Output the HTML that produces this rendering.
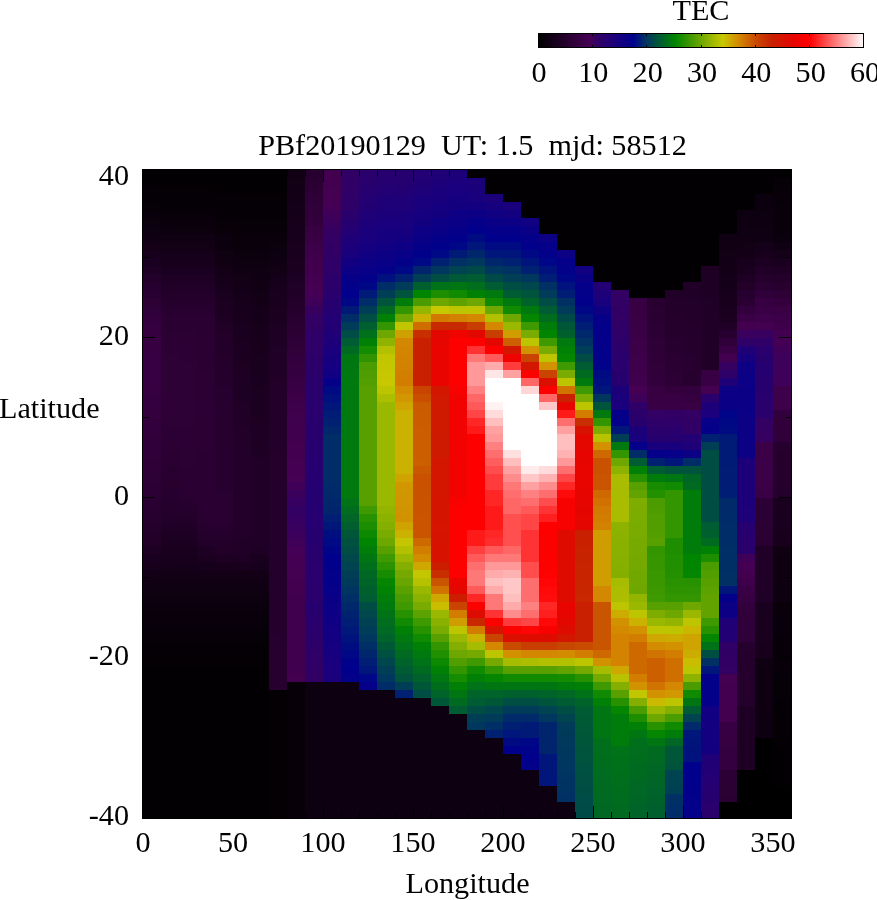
<!DOCTYPE html>
<html><head><meta charset="utf-8"><title>TEC</title>
<style>
html,body{margin:0;padding:0;background:#fff;}
body{width:877px;height:900px;overflow:hidden;}
svg{display:block;}
text{font-family:"Liberation Serif",serif;font-size:30.2px;fill:#000;}
</style></head><body>
<svg width="877" height="900" viewBox="0 0 877 900">
<defs><linearGradient id="cb" x1="0" x2="1" y1="0" y2="0"><stop offset="0.00%" stop-color="#000000"/><stop offset="16.00%" stop-color="#460054"/><stop offset="17.67%" stop-color="#340062"/><stop offset="24.17%" stop-color="#19007d"/><stop offset="29.17%" stop-color="#00008c"/><stop offset="33.33%" stop-color="#00375f"/><stop offset="42.17%" stop-color="#008500"/><stop offset="50.00%" stop-color="#6ea700"/><stop offset="56.67%" stop-color="#c8c800"/><stop offset="61.67%" stop-color="#d48700"/><stop offset="66.67%" stop-color="#c84b00"/><stop offset="71.67%" stop-color="#c82000"/><stop offset="78.33%" stop-color="#e60500"/><stop offset="83.33%" stop-color="#ff0000"/><stop offset="100.00%" stop-color="#ffffff"/></linearGradient></defs>
<rect x="0" y="0" width="877" height="900" fill="#fff"/>
<g shape-rendering="crispEdges">
<rect x="142" y="169" width="650" height="650" fill="#000"/>
<rect x="143" y="170" width="18" height="8" fill="#020003"/>
<rect x="143" y="178" width="18" height="8" fill="#030004"/>
<rect x="143" y="186" width="18" height="8" fill="#040005"/>
<rect x="143" y="194" width="18" height="8" fill="#050006"/>
<rect x="143" y="202" width="18" height="8" fill="#060007"/>
<rect x="143" y="210" width="18" height="8" fill="#08000a"/>
<rect x="143" y="218" width="18" height="8" fill="#0b000d"/>
<rect x="143" y="226" width="18" height="8" fill="#0d0010"/>
<rect x="143" y="234" width="18" height="8" fill="#100013"/>
<rect x="143" y="242" width="18" height="8" fill="#130017"/>
<rect x="143" y="250" width="18" height="8" fill="#17001b"/>
<rect x="143" y="258" width="18" height="8" fill="#1a0020"/>
<rect x="143" y="266" width="18" height="8" fill="#1e0024"/>
<rect x="143" y="274" width="18" height="8" fill="#220029"/>
<rect x="143" y="282" width="18" height="8" fill="#26002e"/>
<rect x="143" y="290" width="18" height="8" fill="#290032"/>
<rect x="143" y="298" width="18" height="8" fill="#2d0036"/>
<rect x="143" y="306" width="18" height="8" fill="#30003a"/>
<rect x="143" y="314" width="18" height="8" fill="#33003d"/>
<rect x="143" y="322" width="18" height="8" fill="#350040"/>
<rect x="143" y="330" width="18" height="8" fill="#360040"/>
<rect x="143" y="338" width="18" height="8" fill="#360041"/>
<rect x="143" y="346" width="18" height="8" fill="#370041"/>
<rect x="143" y="354" width="18" height="24" fill="#370042"/>
<rect x="143" y="378" width="18" height="16" fill="#360041"/>
<rect x="143" y="394" width="18" height="8" fill="#350040"/>
<rect x="143" y="402" width="18" height="8" fill="#34003f"/>
<rect x="143" y="410" width="18" height="8" fill="#34003e"/>
<rect x="143" y="418" width="18" height="8" fill="#33003d"/>
<rect x="143" y="426" width="18" height="8" fill="#32003c"/>
<rect x="143" y="434" width="18" height="8" fill="#31003b"/>
<rect x="143" y="442" width="18" height="8" fill="#30003a"/>
<rect x="143" y="450" width="18" height="8" fill="#2f0039"/>
<rect x="143" y="458" width="18" height="8" fill="#2f0038"/>
<rect x="143" y="466" width="18" height="8" fill="#2e0037"/>
<rect x="143" y="474" width="18" height="8" fill="#2d0036"/>
<rect x="143" y="482" width="18" height="8" fill="#2c0035"/>
<rect x="143" y="490" width="18" height="8" fill="#2c0034"/>
<rect x="143" y="498" width="18" height="8" fill="#2a0032"/>
<rect x="143" y="506" width="18" height="8" fill="#280030"/>
<rect x="143" y="514" width="18" height="8" fill="#27002e"/>
<rect x="143" y="522" width="18" height="8" fill="#25002c"/>
<rect x="143" y="530" width="18" height="8" fill="#23002a"/>
<rect x="143" y="538" width="18" height="8" fill="#220028"/>
<rect x="143" y="546" width="18" height="8" fill="#1e0024"/>
<rect x="143" y="554" width="18" height="8" fill="#1a0020"/>
<rect x="143" y="562" width="18" height="8" fill="#17001b"/>
<rect x="143" y="570" width="18" height="8" fill="#130017"/>
<rect x="143" y="578" width="18" height="8" fill="#110014"/>
<rect x="143" y="586" width="18" height="8" fill="#0f0012"/>
<rect x="143" y="594" width="18" height="8" fill="#0d000f"/>
<rect x="143" y="602" width="18" height="8" fill="#0b000d"/>
<rect x="143" y="610" width="18" height="8" fill="#09000b"/>
<rect x="143" y="618" width="18" height="8" fill="#08000a"/>
<rect x="143" y="626" width="18" height="8" fill="#070008"/>
<rect x="143" y="634" width="18" height="8" fill="#060007"/>
<rect x="143" y="642" width="18" height="8" fill="#050006"/>
<rect x="143" y="650" width="18" height="8" fill="#040005"/>
<rect x="143" y="658" width="18" height="8" fill="#040004"/>
<rect x="143" y="666" width="18" height="8" fill="#030004"/>
<rect x="143" y="674" width="18" height="80" fill="#030003"/>
<rect x="143" y="754" width="18" height="64" fill="#020003"/>
<rect x="161" y="170" width="18" height="8" fill="#020003"/>
<rect x="161" y="178" width="18" height="8" fill="#030004"/>
<rect x="161" y="186" width="18" height="8" fill="#040004"/>
<rect x="161" y="194" width="18" height="8" fill="#040005"/>
<rect x="161" y="202" width="18" height="8" fill="#050006"/>
<rect x="161" y="210" width="18" height="8" fill="#070009"/>
<rect x="161" y="218" width="18" height="8" fill="#0a000c"/>
<rect x="161" y="226" width="18" height="8" fill="#0c000f"/>
<rect x="161" y="234" width="18" height="8" fill="#0f0012"/>
<rect x="161" y="242" width="18" height="8" fill="#120015"/>
<rect x="161" y="250" width="18" height="8" fill="#140018"/>
<rect x="161" y="258" width="18" height="8" fill="#17001c"/>
<rect x="161" y="266" width="18" height="8" fill="#1a0020"/>
<rect x="161" y="274" width="18" height="8" fill="#1e0024"/>
<rect x="161" y="282" width="18" height="8" fill="#210027"/>
<rect x="161" y="290" width="18" height="8" fill="#23002a"/>
<rect x="161" y="298" width="18" height="8" fill="#25002c"/>
<rect x="161" y="306" width="18" height="8" fill="#27002f"/>
<rect x="161" y="314" width="18" height="8" fill="#290031"/>
<rect x="161" y="322" width="18" height="8" fill="#2a0032"/>
<rect x="161" y="330" width="18" height="8" fill="#2b0033"/>
<rect x="161" y="338" width="18" height="8" fill="#2c0034"/>
<rect x="161" y="346" width="18" height="8" fill="#2c0035"/>
<rect x="161" y="354" width="18" height="40" fill="#2d0036"/>
<rect x="161" y="394" width="18" height="24" fill="#2e0037"/>
<rect x="161" y="418" width="18" height="8" fill="#2d0036"/>
<rect x="161" y="426" width="18" height="8" fill="#2c0035"/>
<rect x="161" y="434" width="18" height="8" fill="#2b0034"/>
<rect x="161" y="442" width="18" height="8" fill="#2b0033"/>
<rect x="161" y="450" width="18" height="8" fill="#2a0032"/>
<rect x="161" y="458" width="18" height="8" fill="#290031"/>
<rect x="161" y="466" width="18" height="8" fill="#280030"/>
<rect x="161" y="474" width="18" height="8" fill="#27002f"/>
<rect x="161" y="482" width="18" height="8" fill="#27002e"/>
<rect x="161" y="490" width="18" height="8" fill="#26002e"/>
<rect x="161" y="498" width="18" height="8" fill="#25002d"/>
<rect x="161" y="506" width="18" height="8" fill="#24002c"/>
<rect x="161" y="514" width="18" height="8" fill="#220029"/>
<rect x="161" y="522" width="18" height="8" fill="#200026"/>
<rect x="161" y="530" width="18" height="8" fill="#1e0024"/>
<rect x="161" y="538" width="18" height="8" fill="#1c0021"/>
<rect x="161" y="546" width="18" height="8" fill="#1a001f"/>
<rect x="161" y="554" width="18" height="8" fill="#17001c"/>
<rect x="161" y="562" width="18" height="8" fill="#150019"/>
<rect x="161" y="570" width="18" height="8" fill="#130017"/>
<rect x="161" y="578" width="18" height="8" fill="#110014"/>
<rect x="161" y="586" width="18" height="8" fill="#0f0012"/>
<rect x="161" y="594" width="18" height="8" fill="#0d000f"/>
<rect x="161" y="602" width="18" height="8" fill="#0b000d"/>
<rect x="161" y="610" width="18" height="8" fill="#09000b"/>
<rect x="161" y="618" width="18" height="8" fill="#08000a"/>
<rect x="161" y="626" width="18" height="8" fill="#070008"/>
<rect x="161" y="634" width="18" height="8" fill="#060007"/>
<rect x="161" y="642" width="18" height="8" fill="#050006"/>
<rect x="161" y="650" width="18" height="8" fill="#040005"/>
<rect x="161" y="658" width="18" height="8" fill="#040004"/>
<rect x="161" y="666" width="18" height="8" fill="#030004"/>
<rect x="161" y="674" width="18" height="80" fill="#030003"/>
<rect x="161" y="754" width="18" height="64" fill="#020003"/>
<rect x="179" y="170" width="18" height="8" fill="#020003"/>
<rect x="179" y="178" width="18" height="8" fill="#030004"/>
<rect x="179" y="186" width="18" height="8" fill="#040004"/>
<rect x="179" y="194" width="18" height="8" fill="#040005"/>
<rect x="179" y="202" width="18" height="8" fill="#050006"/>
<rect x="179" y="210" width="18" height="8" fill="#070009"/>
<rect x="179" y="218" width="18" height="8" fill="#0a000c"/>
<rect x="179" y="226" width="18" height="8" fill="#0c000f"/>
<rect x="179" y="234" width="18" height="8" fill="#0f0012"/>
<rect x="179" y="242" width="18" height="8" fill="#120015"/>
<rect x="179" y="250" width="18" height="8" fill="#140018"/>
<rect x="179" y="258" width="18" height="8" fill="#17001c"/>
<rect x="179" y="266" width="18" height="8" fill="#1a0020"/>
<rect x="179" y="274" width="18" height="8" fill="#1e0024"/>
<rect x="179" y="282" width="18" height="8" fill="#210027"/>
<rect x="179" y="290" width="18" height="8" fill="#23002a"/>
<rect x="179" y="298" width="18" height="8" fill="#25002c"/>
<rect x="179" y="306" width="18" height="8" fill="#27002f"/>
<rect x="179" y="314" width="18" height="8" fill="#290031"/>
<rect x="179" y="322" width="18" height="8" fill="#2a0032"/>
<rect x="179" y="330" width="18" height="8" fill="#2b0033"/>
<rect x="179" y="338" width="18" height="8" fill="#2c0034"/>
<rect x="179" y="346" width="18" height="8" fill="#2c0035"/>
<rect x="179" y="354" width="18" height="8" fill="#2d0035"/>
<rect x="179" y="362" width="18" height="64" fill="#2d0036"/>
<rect x="179" y="426" width="18" height="16" fill="#2c0035"/>
<rect x="179" y="442" width="18" height="16" fill="#2b0034"/>
<rect x="179" y="458" width="18" height="8" fill="#2b0033"/>
<rect x="179" y="466" width="18" height="8" fill="#2a0033"/>
<rect x="179" y="474" width="18" height="8" fill="#2a0032"/>
<rect x="179" y="482" width="18" height="8" fill="#290032"/>
<rect x="179" y="490" width="18" height="8" fill="#290031"/>
<rect x="179" y="498" width="18" height="8" fill="#27002f"/>
<rect x="179" y="506" width="18" height="8" fill="#25002c"/>
<rect x="179" y="514" width="18" height="8" fill="#23002a"/>
<rect x="179" y="522" width="18" height="8" fill="#210027"/>
<rect x="179" y="530" width="18" height="8" fill="#1f0025"/>
<rect x="179" y="538" width="18" height="8" fill="#1c0022"/>
<rect x="179" y="546" width="18" height="8" fill="#1a001f"/>
<rect x="179" y="554" width="18" height="8" fill="#18001c"/>
<rect x="179" y="562" width="18" height="8" fill="#15001a"/>
<rect x="179" y="570" width="18" height="8" fill="#130017"/>
<rect x="179" y="578" width="18" height="8" fill="#110014"/>
<rect x="179" y="586" width="18" height="8" fill="#0f0012"/>
<rect x="179" y="594" width="18" height="8" fill="#0d000f"/>
<rect x="179" y="602" width="18" height="8" fill="#0b000d"/>
<rect x="179" y="610" width="18" height="8" fill="#09000b"/>
<rect x="179" y="618" width="18" height="8" fill="#08000a"/>
<rect x="179" y="626" width="18" height="8" fill="#070008"/>
<rect x="179" y="634" width="18" height="8" fill="#060007"/>
<rect x="179" y="642" width="18" height="8" fill="#050006"/>
<rect x="179" y="650" width="18" height="8" fill="#040005"/>
<rect x="179" y="658" width="18" height="8" fill="#040004"/>
<rect x="179" y="666" width="18" height="8" fill="#030004"/>
<rect x="179" y="674" width="18" height="80" fill="#030003"/>
<rect x="179" y="754" width="18" height="64" fill="#020003"/>
<rect x="197" y="170" width="18" height="8" fill="#020003"/>
<rect x="197" y="178" width="18" height="8" fill="#030004"/>
<rect x="197" y="186" width="18" height="8" fill="#040004"/>
<rect x="197" y="194" width="18" height="8" fill="#040005"/>
<rect x="197" y="202" width="18" height="8" fill="#050006"/>
<rect x="197" y="210" width="18" height="8" fill="#070009"/>
<rect x="197" y="218" width="18" height="8" fill="#0a000c"/>
<rect x="197" y="226" width="18" height="8" fill="#0c000f"/>
<rect x="197" y="234" width="18" height="8" fill="#0f0012"/>
<rect x="197" y="242" width="18" height="8" fill="#120015"/>
<rect x="197" y="250" width="18" height="8" fill="#140018"/>
<rect x="197" y="258" width="18" height="8" fill="#17001c"/>
<rect x="197" y="266" width="18" height="8" fill="#1a0020"/>
<rect x="197" y="274" width="18" height="8" fill="#1e0024"/>
<rect x="197" y="282" width="18" height="8" fill="#210027"/>
<rect x="197" y="290" width="18" height="8" fill="#23002a"/>
<rect x="197" y="298" width="18" height="8" fill="#25002c"/>
<rect x="197" y="306" width="18" height="8" fill="#27002f"/>
<rect x="197" y="314" width="18" height="16" fill="#290031"/>
<rect x="197" y="330" width="18" height="16" fill="#2a0032"/>
<rect x="197" y="346" width="18" height="24" fill="#2a0033"/>
<rect x="197" y="370" width="18" height="32" fill="#2b0033"/>
<rect x="197" y="402" width="18" height="16" fill="#2b0034"/>
<rect x="197" y="418" width="18" height="32" fill="#2b0033"/>
<rect x="197" y="450" width="18" height="32" fill="#2a0033"/>
<rect x="197" y="482" width="18" height="40" fill="#2a0032"/>
<rect x="197" y="522" width="18" height="8" fill="#27002f"/>
<rect x="197" y="530" width="18" height="8" fill="#25002d"/>
<rect x="197" y="538" width="18" height="8" fill="#23002a"/>
<rect x="197" y="546" width="18" height="8" fill="#1f0025"/>
<rect x="197" y="554" width="18" height="8" fill="#1b0020"/>
<rect x="197" y="562" width="18" height="8" fill="#17001c"/>
<rect x="197" y="570" width="18" height="8" fill="#130017"/>
<rect x="197" y="578" width="18" height="8" fill="#110014"/>
<rect x="197" y="586" width="18" height="8" fill="#0f0012"/>
<rect x="197" y="594" width="18" height="8" fill="#0d000f"/>
<rect x="197" y="602" width="18" height="8" fill="#0b000d"/>
<rect x="197" y="610" width="18" height="8" fill="#09000b"/>
<rect x="197" y="618" width="18" height="8" fill="#08000a"/>
<rect x="197" y="626" width="18" height="8" fill="#070008"/>
<rect x="197" y="634" width="18" height="8" fill="#060007"/>
<rect x="197" y="642" width="18" height="8" fill="#050006"/>
<rect x="197" y="650" width="18" height="8" fill="#040005"/>
<rect x="197" y="658" width="18" height="8" fill="#040004"/>
<rect x="197" y="666" width="18" height="8" fill="#030004"/>
<rect x="197" y="674" width="18" height="80" fill="#030003"/>
<rect x="197" y="754" width="18" height="64" fill="#020003"/>
<rect x="215" y="170" width="18" height="8" fill="#020003"/>
<rect x="215" y="178" width="18" height="8" fill="#030003"/>
<rect x="215" y="186" width="18" height="8" fill="#030004"/>
<rect x="215" y="194" width="18" height="8" fill="#040005"/>
<rect x="215" y="202" width="18" height="8" fill="#050005"/>
<rect x="215" y="210" width="18" height="8" fill="#050006"/>
<rect x="215" y="218" width="18" height="8" fill="#070008"/>
<rect x="215" y="226" width="18" height="8" fill="#09000a"/>
<rect x="215" y="234" width="18" height="8" fill="#0b000d"/>
<rect x="215" y="242" width="18" height="8" fill="#0c000f"/>
<rect x="215" y="250" width="18" height="8" fill="#0f0012"/>
<rect x="215" y="258" width="18" height="8" fill="#110014"/>
<rect x="215" y="266" width="18" height="8" fill="#130017"/>
<rect x="215" y="274" width="18" height="8" fill="#150019"/>
<rect x="215" y="282" width="18" height="8" fill="#17001b"/>
<rect x="215" y="290" width="18" height="8" fill="#19001e"/>
<rect x="215" y="298" width="18" height="8" fill="#1b0020"/>
<rect x="215" y="306" width="18" height="8" fill="#1c0022"/>
<rect x="215" y="314" width="18" height="8" fill="#1e0024"/>
<rect x="215" y="322" width="18" height="8" fill="#200026"/>
<rect x="215" y="330" width="18" height="8" fill="#220028"/>
<rect x="215" y="338" width="18" height="8" fill="#220029"/>
<rect x="215" y="346" width="18" height="8" fill="#23002a"/>
<rect x="215" y="354" width="18" height="8" fill="#24002b"/>
<rect x="215" y="362" width="18" height="8" fill="#24002c"/>
<rect x="215" y="370" width="18" height="8" fill="#25002c"/>
<rect x="215" y="378" width="18" height="8" fill="#25002d"/>
<rect x="215" y="386" width="18" height="16" fill="#26002e"/>
<rect x="215" y="402" width="18" height="24" fill="#27002f"/>
<rect x="215" y="426" width="18" height="64" fill="#280030"/>
<rect x="215" y="490" width="18" height="8" fill="#280031"/>
<rect x="215" y="498" width="18" height="24" fill="#290031"/>
<rect x="215" y="522" width="18" height="8" fill="#27002f"/>
<rect x="215" y="530" width="18" height="8" fill="#25002d"/>
<rect x="215" y="538" width="18" height="8" fill="#23002a"/>
<rect x="215" y="546" width="18" height="8" fill="#220028"/>
<rect x="215" y="554" width="18" height="8" fill="#1d0022"/>
<rect x="215" y="562" width="18" height="8" fill="#18001d"/>
<rect x="215" y="570" width="18" height="8" fill="#130017"/>
<rect x="215" y="578" width="18" height="8" fill="#110014"/>
<rect x="215" y="586" width="18" height="8" fill="#0f0012"/>
<rect x="215" y="594" width="18" height="8" fill="#0d000f"/>
<rect x="215" y="602" width="18" height="8" fill="#0b000d"/>
<rect x="215" y="610" width="18" height="8" fill="#09000b"/>
<rect x="215" y="618" width="18" height="8" fill="#08000a"/>
<rect x="215" y="626" width="18" height="8" fill="#070008"/>
<rect x="215" y="634" width="18" height="8" fill="#060007"/>
<rect x="215" y="642" width="18" height="8" fill="#050006"/>
<rect x="215" y="650" width="18" height="8" fill="#040005"/>
<rect x="215" y="658" width="18" height="8" fill="#040004"/>
<rect x="215" y="666" width="18" height="8" fill="#030004"/>
<rect x="215" y="674" width="18" height="80" fill="#030003"/>
<rect x="215" y="754" width="18" height="64" fill="#020003"/>
<rect x="233" y="170" width="18" height="8" fill="#020003"/>
<rect x="233" y="178" width="18" height="8" fill="#030003"/>
<rect x="233" y="186" width="18" height="8" fill="#030004"/>
<rect x="233" y="194" width="18" height="8" fill="#040004"/>
<rect x="233" y="202" width="18" height="16" fill="#040005"/>
<rect x="233" y="218" width="18" height="8" fill="#060007"/>
<rect x="233" y="226" width="18" height="8" fill="#070009"/>
<rect x="233" y="234" width="18" height="8" fill="#09000a"/>
<rect x="233" y="242" width="18" height="8" fill="#0a000c"/>
<rect x="233" y="250" width="18" height="8" fill="#0c000f"/>
<rect x="233" y="258" width="18" height="8" fill="#0e0011"/>
<rect x="233" y="266" width="18" height="8" fill="#100013"/>
<rect x="233" y="274" width="18" height="8" fill="#120015"/>
<rect x="233" y="282" width="18" height="8" fill="#130017"/>
<rect x="233" y="290" width="18" height="8" fill="#140018"/>
<rect x="233" y="298" width="18" height="8" fill="#16001a"/>
<rect x="233" y="306" width="18" height="8" fill="#17001b"/>
<rect x="233" y="314" width="18" height="8" fill="#18001d"/>
<rect x="233" y="322" width="18" height="8" fill="#19001e"/>
<rect x="233" y="330" width="18" height="8" fill="#1a0020"/>
<rect x="233" y="338" width="18" height="8" fill="#1b0020"/>
<rect x="233" y="346" width="18" height="8" fill="#1b0021"/>
<rect x="233" y="354" width="18" height="8" fill="#1c0022"/>
<rect x="233" y="362" width="18" height="8" fill="#1d0022"/>
<rect x="233" y="370" width="18" height="8" fill="#1d0023"/>
<rect x="233" y="378" width="18" height="8" fill="#1e0024"/>
<rect x="233" y="386" width="18" height="8" fill="#1e0025"/>
<rect x="233" y="394" width="18" height="8" fill="#1f0025"/>
<rect x="233" y="402" width="18" height="8" fill="#200026"/>
<rect x="233" y="410" width="18" height="8" fill="#200027"/>
<rect x="233" y="418" width="18" height="8" fill="#210028"/>
<rect x="233" y="426" width="18" height="16" fill="#220028"/>
<rect x="233" y="442" width="18" height="48" fill="#220029"/>
<rect x="233" y="490" width="18" height="8" fill="#230029"/>
<rect x="233" y="498" width="18" height="32" fill="#23002a"/>
<rect x="233" y="530" width="18" height="8" fill="#220029"/>
<rect x="233" y="538" width="18" height="8" fill="#210027"/>
<rect x="233" y="546" width="18" height="8" fill="#200026"/>
<rect x="233" y="554" width="18" height="8" fill="#1f0025"/>
<rect x="233" y="562" width="18" height="8" fill="#19001e"/>
<rect x="233" y="570" width="18" height="8" fill="#130017"/>
<rect x="233" y="578" width="18" height="8" fill="#110014"/>
<rect x="233" y="586" width="18" height="8" fill="#0f0012"/>
<rect x="233" y="594" width="18" height="8" fill="#0d000f"/>
<rect x="233" y="602" width="18" height="8" fill="#0b000d"/>
<rect x="233" y="610" width="18" height="8" fill="#09000b"/>
<rect x="233" y="618" width="18" height="8" fill="#08000a"/>
<rect x="233" y="626" width="18" height="8" fill="#070008"/>
<rect x="233" y="634" width="18" height="8" fill="#060007"/>
<rect x="233" y="642" width="18" height="8" fill="#050006"/>
<rect x="233" y="650" width="18" height="8" fill="#040005"/>
<rect x="233" y="658" width="18" height="8" fill="#040004"/>
<rect x="233" y="666" width="18" height="8" fill="#030004"/>
<rect x="233" y="674" width="18" height="80" fill="#030003"/>
<rect x="233" y="754" width="18" height="64" fill="#020003"/>
<rect x="251" y="170" width="18" height="8" fill="#020003"/>
<rect x="251" y="178" width="18" height="8" fill="#030003"/>
<rect x="251" y="186" width="18" height="8" fill="#030004"/>
<rect x="251" y="194" width="18" height="8" fill="#040004"/>
<rect x="251" y="202" width="18" height="16" fill="#040005"/>
<rect x="251" y="218" width="18" height="8" fill="#060007"/>
<rect x="251" y="226" width="18" height="8" fill="#070008"/>
<rect x="251" y="234" width="18" height="8" fill="#08000a"/>
<rect x="251" y="242" width="18" height="8" fill="#09000b"/>
<rect x="251" y="250" width="18" height="8" fill="#0b000d"/>
<rect x="251" y="258" width="18" height="8" fill="#0d000f"/>
<rect x="251" y="266" width="18" height="8" fill="#0f0012"/>
<rect x="251" y="274" width="18" height="8" fill="#100013"/>
<rect x="251" y="282" width="18" height="8" fill="#110014"/>
<rect x="251" y="290" width="18" height="8" fill="#120015"/>
<rect x="251" y="298" width="18" height="8" fill="#130017"/>
<rect x="251" y="306" width="18" height="8" fill="#140018"/>
<rect x="251" y="314" width="18" height="8" fill="#150019"/>
<rect x="251" y="322" width="18" height="8" fill="#16001a"/>
<rect x="251" y="330" width="18" height="8" fill="#17001c"/>
<rect x="251" y="338" width="18" height="16" fill="#18001d"/>
<rect x="251" y="354" width="18" height="16" fill="#19001e"/>
<rect x="251" y="370" width="18" height="8" fill="#1a001f"/>
<rect x="251" y="378" width="18" height="8" fill="#1a0020"/>
<rect x="251" y="386" width="18" height="8" fill="#1b0020"/>
<rect x="251" y="394" width="18" height="8" fill="#1b0021"/>
<rect x="251" y="402" width="18" height="8" fill="#1c0021"/>
<rect x="251" y="410" width="18" height="8" fill="#1c0022"/>
<rect x="251" y="418" width="18" height="8" fill="#1d0022"/>
<rect x="251" y="426" width="18" height="8" fill="#1d0023"/>
<rect x="251" y="434" width="18" height="16" fill="#1e0024"/>
<rect x="251" y="450" width="18" height="8" fill="#1f0025"/>
<rect x="251" y="458" width="18" height="8" fill="#200026"/>
<rect x="251" y="466" width="18" height="8" fill="#200027"/>
<rect x="251" y="474" width="18" height="72" fill="#210027"/>
<rect x="251" y="546" width="18" height="8" fill="#1d0023"/>
<rect x="251" y="554" width="18" height="8" fill="#1a001f"/>
<rect x="251" y="562" width="18" height="8" fill="#16001b"/>
<rect x="251" y="570" width="18" height="8" fill="#130017"/>
<rect x="251" y="578" width="18" height="8" fill="#110014"/>
<rect x="251" y="586" width="18" height="8" fill="#0f0012"/>
<rect x="251" y="594" width="18" height="8" fill="#0d000f"/>
<rect x="251" y="602" width="18" height="8" fill="#0b000d"/>
<rect x="251" y="610" width="18" height="8" fill="#09000b"/>
<rect x="251" y="618" width="18" height="8" fill="#08000a"/>
<rect x="251" y="626" width="18" height="8" fill="#070008"/>
<rect x="251" y="634" width="18" height="8" fill="#060007"/>
<rect x="251" y="642" width="18" height="8" fill="#050006"/>
<rect x="251" y="650" width="18" height="8" fill="#040005"/>
<rect x="251" y="658" width="18" height="8" fill="#040004"/>
<rect x="251" y="666" width="18" height="8" fill="#030004"/>
<rect x="251" y="674" width="18" height="80" fill="#030003"/>
<rect x="251" y="754" width="18" height="64" fill="#020003"/>
<rect x="269" y="170" width="18" height="8" fill="#020003"/>
<rect x="269" y="178" width="18" height="8" fill="#030003"/>
<rect x="269" y="186" width="18" height="8" fill="#030004"/>
<rect x="269" y="194" width="18" height="8" fill="#040004"/>
<rect x="269" y="202" width="18" height="16" fill="#040005"/>
<rect x="269" y="218" width="18" height="8" fill="#060007"/>
<rect x="269" y="226" width="18" height="8" fill="#080009"/>
<rect x="269" y="234" width="18" height="8" fill="#0a000c"/>
<rect x="269" y="242" width="18" height="8" fill="#0b000e"/>
<rect x="269" y="250" width="18" height="8" fill="#0d0010"/>
<rect x="269" y="258" width="18" height="8" fill="#0f0013"/>
<rect x="269" y="266" width="18" height="8" fill="#120015"/>
<rect x="269" y="274" width="18" height="8" fill="#140018"/>
<rect x="269" y="282" width="18" height="8" fill="#16001b"/>
<rect x="269" y="290" width="18" height="8" fill="#19001e"/>
<rect x="269" y="298" width="18" height="8" fill="#1a001f"/>
<rect x="269" y="306" width="18" height="8" fill="#1b0020"/>
<rect x="269" y="314" width="18" height="8" fill="#1c0021"/>
<rect x="269" y="322" width="18" height="8" fill="#1d0022"/>
<rect x="269" y="330" width="18" height="8" fill="#1d0023"/>
<rect x="269" y="338" width="18" height="8" fill="#1e0024"/>
<rect x="269" y="346" width="18" height="8" fill="#1f0026"/>
<rect x="269" y="354" width="18" height="8" fill="#200026"/>
<rect x="269" y="362" width="18" height="8" fill="#210027"/>
<rect x="269" y="370" width="18" height="8" fill="#210028"/>
<rect x="269" y="378" width="18" height="8" fill="#220028"/>
<rect x="269" y="386" width="18" height="16" fill="#220029"/>
<rect x="269" y="402" width="18" height="40" fill="#23002a"/>
<rect x="269" y="442" width="18" height="8" fill="#23002b"/>
<rect x="269" y="450" width="18" height="32" fill="#24002b"/>
<rect x="269" y="482" width="18" height="120" fill="#24002c"/>
<rect x="269" y="602" width="18" height="8" fill="#25002c"/>
<rect x="269" y="610" width="18" height="16" fill="#25002d"/>
<rect x="269" y="626" width="18" height="8" fill="#26002d"/>
<rect x="269" y="634" width="18" height="16" fill="#26002e"/>
<rect x="269" y="650" width="18" height="24" fill="#27002f"/>
<rect x="269" y="674" width="18" height="16" fill="#280030"/>
<rect x="269" y="690" width="18" height="128" fill="#040004"/>
<rect x="287" y="170" width="18" height="8" fill="#110014"/>
<rect x="287" y="178" width="18" height="8" fill="#120015"/>
<rect x="287" y="186" width="18" height="8" fill="#120016"/>
<rect x="287" y="194" width="18" height="8" fill="#130017"/>
<rect x="287" y="202" width="18" height="8" fill="#140018"/>
<rect x="287" y="210" width="18" height="8" fill="#150019"/>
<rect x="287" y="218" width="18" height="8" fill="#16001a"/>
<rect x="287" y="226" width="18" height="8" fill="#17001b"/>
<rect x="287" y="234" width="18" height="8" fill="#17001c"/>
<rect x="287" y="242" width="18" height="8" fill="#19001d"/>
<rect x="287" y="250" width="18" height="8" fill="#1a001f"/>
<rect x="287" y="258" width="18" height="8" fill="#1b0020"/>
<rect x="287" y="266" width="18" height="8" fill="#1c0022"/>
<rect x="287" y="274" width="18" height="8" fill="#1d0023"/>
<rect x="287" y="282" width="18" height="8" fill="#1f0026"/>
<rect x="287" y="290" width="18" height="8" fill="#210028"/>
<rect x="287" y="298" width="18" height="8" fill="#23002a"/>
<rect x="287" y="306" width="18" height="8" fill="#26002d"/>
<rect x="287" y="314" width="18" height="8" fill="#280030"/>
<rect x="287" y="322" width="18" height="8" fill="#2a0032"/>
<rect x="287" y="330" width="18" height="8" fill="#2c0034"/>
<rect x="287" y="338" width="18" height="8" fill="#2e0037"/>
<rect x="287" y="346" width="18" height="8" fill="#300039"/>
<rect x="287" y="354" width="18" height="8" fill="#32003c"/>
<rect x="287" y="362" width="18" height="8" fill="#34003e"/>
<rect x="287" y="370" width="18" height="8" fill="#350040"/>
<rect x="287" y="378" width="18" height="8" fill="#370042"/>
<rect x="287" y="386" width="18" height="8" fill="#390045"/>
<rect x="287" y="394" width="18" height="8" fill="#3b0047"/>
<rect x="287" y="402" width="18" height="8" fill="#3d004a"/>
<rect x="287" y="410" width="18" height="8" fill="#3f004c"/>
<rect x="287" y="418" width="18" height="8" fill="#40004d"/>
<rect x="287" y="426" width="18" height="8" fill="#41004d"/>
<rect x="287" y="434" width="18" height="8" fill="#41004e"/>
<rect x="287" y="442" width="18" height="8" fill="#42004f"/>
<rect x="287" y="450" width="18" height="8" fill="#430050"/>
<rect x="287" y="458" width="18" height="8" fill="#440051"/>
<rect x="287" y="466" width="18" height="8" fill="#450053"/>
<rect x="287" y="474" width="18" height="8" fill="#460054"/>
<rect x="287" y="482" width="18" height="8" fill="#410058"/>
<rect x="287" y="490" width="18" height="8" fill="#3b005c"/>
<rect x="287" y="498" width="18" height="8" fill="#370060"/>
<rect x="287" y="506" width="18" height="8" fill="#330063"/>
<rect x="287" y="514" width="18" height="8" fill="#350061"/>
<rect x="287" y="522" width="18" height="8" fill="#38005f"/>
<rect x="287" y="530" width="18" height="8" fill="#3b005c"/>
<rect x="287" y="538" width="18" height="8" fill="#3f0059"/>
<rect x="287" y="546" width="18" height="8" fill="#440056"/>
<rect x="287" y="554" width="18" height="8" fill="#450053"/>
<rect x="287" y="562" width="18" height="8" fill="#440052"/>
<rect x="287" y="570" width="18" height="8" fill="#440051"/>
<rect x="287" y="578" width="18" height="8" fill="#430050"/>
<rect x="287" y="586" width="18" height="8" fill="#42004f"/>
<rect x="287" y="594" width="18" height="8" fill="#41004e"/>
<rect x="287" y="602" width="18" height="24" fill="#40004d"/>
<rect x="287" y="626" width="18" height="40" fill="#41004e"/>
<rect x="287" y="666" width="18" height="8" fill="#41004f"/>
<rect x="287" y="674" width="18" height="8" fill="#42004f"/>
<rect x="287" y="682" width="18" height="136" fill="#070009"/>
<rect x="305" y="170" width="18" height="8" fill="#280030"/>
<rect x="305" y="178" width="18" height="8" fill="#2a0032"/>
<rect x="305" y="186" width="18" height="8" fill="#2c0034"/>
<rect x="305" y="194" width="18" height="8" fill="#2e0037"/>
<rect x="305" y="202" width="18" height="8" fill="#2f0039"/>
<rect x="305" y="210" width="18" height="8" fill="#31003b"/>
<rect x="305" y="218" width="18" height="8" fill="#33003d"/>
<rect x="305" y="226" width="18" height="8" fill="#360041"/>
<rect x="305" y="234" width="18" height="8" fill="#390044"/>
<rect x="305" y="242" width="18" height="8" fill="#3b0047"/>
<rect x="305" y="250" width="18" height="8" fill="#3e004a"/>
<rect x="305" y="258" width="18" height="8" fill="#40004c"/>
<rect x="305" y="266" width="18" height="8" fill="#41004e"/>
<rect x="305" y="274" width="18" height="8" fill="#430050"/>
<rect x="305" y="282" width="18" height="8" fill="#450052"/>
<rect x="305" y="290" width="18" height="8" fill="#440055"/>
<rect x="305" y="298" width="18" height="8" fill="#3f005a"/>
<rect x="305" y="306" width="18" height="8" fill="#38005e"/>
<rect x="305" y="314" width="18" height="8" fill="#330063"/>
<rect x="305" y="322" width="18" height="8" fill="#310065"/>
<rect x="305" y="330" width="18" height="8" fill="#2f0067"/>
<rect x="305" y="338" width="18" height="16" fill="#2e0068"/>
<rect x="305" y="354" width="18" height="8" fill="#2d0069"/>
<rect x="305" y="362" width="18" height="8" fill="#2c006a"/>
<rect x="305" y="370" width="18" height="8" fill="#2b006b"/>
<rect x="305" y="378" width="18" height="24" fill="#2a006c"/>
<rect x="305" y="402" width="18" height="16" fill="#29006d"/>
<rect x="305" y="418" width="18" height="24" fill="#28006e"/>
<rect x="305" y="442" width="18" height="16" fill="#27006f"/>
<rect x="305" y="458" width="18" height="24" fill="#260070"/>
<rect x="305" y="482" width="18" height="24" fill="#250071"/>
<rect x="305" y="506" width="18" height="24" fill="#260070"/>
<rect x="305" y="530" width="18" height="16" fill="#27006f"/>
<rect x="305" y="546" width="18" height="16" fill="#28006e"/>
<rect x="305" y="562" width="18" height="24" fill="#29006d"/>
<rect x="305" y="586" width="18" height="16" fill="#2a006c"/>
<rect x="305" y="602" width="18" height="8" fill="#27006f"/>
<rect x="305" y="610" width="18" height="8" fill="#28006e"/>
<rect x="305" y="618" width="18" height="8" fill="#29006d"/>
<rect x="305" y="626" width="18" height="8" fill="#2a006c"/>
<rect x="305" y="634" width="18" height="8" fill="#2b006b"/>
<rect x="305" y="642" width="18" height="8" fill="#2d0069"/>
<rect x="305" y="650" width="18" height="8" fill="#2e0068"/>
<rect x="305" y="658" width="18" height="8" fill="#2f0067"/>
<rect x="305" y="666" width="18" height="8" fill="#300066"/>
<rect x="305" y="674" width="18" height="8" fill="#310065"/>
<rect x="305" y="682" width="18" height="136" fill="#0d0010"/>
<rect x="323" y="170" width="18" height="8" fill="#42004f"/>
<rect x="323" y="178" width="18" height="8" fill="#430050"/>
<rect x="323" y="186" width="18" height="8" fill="#440051"/>
<rect x="323" y="194" width="18" height="8" fill="#450052"/>
<rect x="323" y="202" width="18" height="8" fill="#440055"/>
<rect x="323" y="210" width="18" height="8" fill="#3f005a"/>
<rect x="323" y="218" width="18" height="8" fill="#3b005d"/>
<rect x="323" y="226" width="18" height="8" fill="#360060"/>
<rect x="323" y="234" width="18" height="8" fill="#330063"/>
<rect x="323" y="242" width="18" height="8" fill="#320064"/>
<rect x="323" y="250" width="18" height="8" fill="#310065"/>
<rect x="323" y="258" width="18" height="8" fill="#2f0067"/>
<rect x="323" y="266" width="18" height="8" fill="#2e0068"/>
<rect x="323" y="274" width="18" height="8" fill="#2c006a"/>
<rect x="323" y="282" width="18" height="8" fill="#2b006b"/>
<rect x="323" y="290" width="18" height="8" fill="#29006d"/>
<rect x="323" y="298" width="18" height="8" fill="#27006f"/>
<rect x="323" y="306" width="18" height="8" fill="#250071"/>
<rect x="323" y="314" width="18" height="8" fill="#230073"/>
<rect x="323" y="322" width="18" height="8" fill="#220074"/>
<rect x="323" y="330" width="18" height="8" fill="#200076"/>
<rect x="323" y="338" width="18" height="8" fill="#1d0079"/>
<rect x="323" y="346" width="18" height="8" fill="#1a007c"/>
<rect x="323" y="354" width="18" height="8" fill="#17007e"/>
<rect x="323" y="362" width="18" height="8" fill="#140080"/>
<rect x="323" y="370" width="18" height="8" fill="#110082"/>
<rect x="323" y="378" width="18" height="8" fill="#060088"/>
<rect x="323" y="386" width="18" height="8" fill="#000b83"/>
<rect x="323" y="394" width="18" height="8" fill="#00107e"/>
<rect x="323" y="402" width="18" height="8" fill="#00167a"/>
<rect x="323" y="410" width="18" height="8" fill="#001c76"/>
<rect x="323" y="418" width="18" height="8" fill="#002171"/>
<rect x="323" y="426" width="18" height="8" fill="#00266c"/>
<rect x="323" y="434" width="18" height="48" fill="#002c68"/>
<rect x="323" y="482" width="18" height="8" fill="#002a69"/>
<rect x="323" y="490" width="18" height="8" fill="#00296b"/>
<rect x="323" y="498" width="18" height="8" fill="#00276c"/>
<rect x="323" y="506" width="18" height="8" fill="#00256d"/>
<rect x="323" y="514" width="18" height="8" fill="#001e73"/>
<rect x="323" y="522" width="18" height="8" fill="#001779"/>
<rect x="323" y="530" width="18" height="8" fill="#000f7f"/>
<rect x="323" y="538" width="18" height="8" fill="#000a84"/>
<rect x="323" y="546" width="18" height="8" fill="#000588"/>
<rect x="323" y="554" width="18" height="8" fill="#00008c"/>
<rect x="323" y="562" width="18" height="8" fill="#01008b"/>
<rect x="323" y="570" width="18" height="8" fill="#03008a"/>
<rect x="323" y="578" width="18" height="8" fill="#04008a"/>
<rect x="323" y="586" width="18" height="8" fill="#070088"/>
<rect x="323" y="594" width="18" height="8" fill="#0a0086"/>
<rect x="323" y="602" width="18" height="8" fill="#0c0084"/>
<rect x="323" y="610" width="18" height="8" fill="#0e0084"/>
<rect x="323" y="618" width="18" height="8" fill="#0f0083"/>
<rect x="323" y="626" width="18" height="8" fill="#110082"/>
<rect x="323" y="634" width="18" height="8" fill="#120081"/>
<rect x="323" y="642" width="18" height="8" fill="#140080"/>
<rect x="323" y="650" width="18" height="8" fill="#16007f"/>
<rect x="323" y="658" width="18" height="8" fill="#18007e"/>
<rect x="323" y="666" width="18" height="8" fill="#1a007c"/>
<rect x="323" y="674" width="18" height="8" fill="#1b007b"/>
<rect x="323" y="682" width="18" height="136" fill="#0d0010"/>
<rect x="341" y="170" width="18" height="8" fill="#310065"/>
<rect x="341" y="178" width="18" height="16" fill="#300066"/>
<rect x="341" y="194" width="18" height="8" fill="#2f0067"/>
<rect x="341" y="202" width="18" height="8" fill="#2e0068"/>
<rect x="341" y="210" width="18" height="8" fill="#2a006c"/>
<rect x="341" y="218" width="18" height="8" fill="#27006f"/>
<rect x="341" y="226" width="18" height="8" fill="#230073"/>
<rect x="341" y="234" width="18" height="8" fill="#200076"/>
<rect x="341" y="242" width="18" height="8" fill="#1c007a"/>
<rect x="341" y="250" width="18" height="8" fill="#19007d"/>
<rect x="341" y="258" width="18" height="8" fill="#130081"/>
<rect x="341" y="266" width="18" height="8" fill="#0c0085"/>
<rect x="341" y="274" width="18" height="8" fill="#060088"/>
<rect x="341" y="282" width="18" height="8" fill="#03008a"/>
<rect x="341" y="290" width="18" height="8" fill="#00008c"/>
<rect x="341" y="298" width="18" height="8" fill="#000787"/>
<rect x="341" y="306" width="18" height="8" fill="#001977"/>
<rect x="341" y="314" width="18" height="8" fill="#002c68"/>
<rect x="341" y="322" width="18" height="8" fill="#003b5a"/>
<rect x="341" y="330" width="18" height="8" fill="#004c46"/>
<rect x="341" y="338" width="18" height="8" fill="#005c32"/>
<rect x="341" y="346" width="18" height="8" fill="#006922"/>
<rect x="341" y="354" width="18" height="8" fill="#007612"/>
<rect x="341" y="362" width="18" height="8" fill="#007711"/>
<rect x="341" y="370" width="18" height="8" fill="#007810"/>
<rect x="341" y="378" width="18" height="120" fill="#00790e"/>
<rect x="341" y="498" width="18" height="8" fill="#007316"/>
<rect x="341" y="506" width="18" height="8" fill="#006c1e"/>
<rect x="341" y="514" width="18" height="8" fill="#006527"/>
<rect x="341" y="522" width="18" height="8" fill="#005e2f"/>
<rect x="341" y="530" width="18" height="8" fill="#005738"/>
<rect x="341" y="538" width="18" height="8" fill="#00523e"/>
<rect x="341" y="546" width="18" height="8" fill="#004d44"/>
<rect x="341" y="554" width="18" height="8" fill="#00484a"/>
<rect x="341" y="562" width="18" height="8" fill="#004351"/>
<rect x="341" y="570" width="18" height="8" fill="#003e56"/>
<rect x="341" y="578" width="18" height="8" fill="#003a5b"/>
<rect x="341" y="586" width="18" height="8" fill="#003561"/>
<rect x="341" y="594" width="18" height="8" fill="#002e66"/>
<rect x="341" y="602" width="18" height="8" fill="#00296b"/>
<rect x="341" y="610" width="18" height="8" fill="#00236f"/>
<rect x="341" y="618" width="18" height="8" fill="#001e74"/>
<rect x="341" y="626" width="18" height="8" fill="#001878"/>
<rect x="341" y="634" width="18" height="8" fill="#00137d"/>
<rect x="341" y="642" width="18" height="8" fill="#000d81"/>
<rect x="341" y="650" width="18" height="8" fill="#000886"/>
<rect x="341" y="658" width="18" height="8" fill="#00028a"/>
<rect x="341" y="666" width="18" height="8" fill="#01008c"/>
<rect x="341" y="674" width="18" height="8" fill="#03008a"/>
<rect x="341" y="682" width="18" height="136" fill="#0d0010"/>
<rect x="359" y="170" width="18" height="8" fill="#2a006c"/>
<rect x="359" y="178" width="18" height="8" fill="#28006e"/>
<rect x="359" y="186" width="18" height="8" fill="#260070"/>
<rect x="359" y="194" width="18" height="8" fill="#240072"/>
<rect x="359" y="202" width="18" height="8" fill="#220074"/>
<rect x="359" y="210" width="18" height="8" fill="#1f0077"/>
<rect x="359" y="218" width="18" height="8" fill="#1d0079"/>
<rect x="359" y="226" width="18" height="8" fill="#1b007b"/>
<rect x="359" y="234" width="18" height="8" fill="#19007d"/>
<rect x="359" y="242" width="18" height="8" fill="#150080"/>
<rect x="359" y="250" width="18" height="8" fill="#110082"/>
<rect x="359" y="258" width="18" height="8" fill="#0c0084"/>
<rect x="359" y="266" width="18" height="8" fill="#080087"/>
<rect x="359" y="274" width="18" height="8" fill="#04008a"/>
<rect x="359" y="282" width="18" height="8" fill="#000786"/>
<rect x="359" y="290" width="18" height="8" fill="#001a77"/>
<rect x="359" y="298" width="18" height="8" fill="#002c68"/>
<rect x="359" y="306" width="18" height="8" fill="#003e56"/>
<rect x="359" y="314" width="18" height="8" fill="#004f42"/>
<rect x="359" y="322" width="18" height="8" fill="#005f2e"/>
<rect x="359" y="330" width="18" height="8" fill="#00701a"/>
<rect x="359" y="338" width="18" height="8" fill="#008105"/>
<rect x="359" y="346" width="18" height="8" fill="#148b00"/>
<rect x="359" y="354" width="18" height="8" fill="#309400"/>
<rect x="359" y="362" width="18" height="8" fill="#4b9c00"/>
<rect x="359" y="370" width="18" height="8" fill="#4f9d00"/>
<rect x="359" y="378" width="18" height="8" fill="#539f00"/>
<rect x="359" y="386" width="18" height="120" fill="#57a000"/>
<rect x="359" y="506" width="18" height="8" fill="#3f9900"/>
<rect x="359" y="514" width="18" height="8" fill="#289100"/>
<rect x="359" y="522" width="18" height="8" fill="#1b8d00"/>
<rect x="359" y="530" width="18" height="8" fill="#0d8900"/>
<rect x="359" y="538" width="18" height="8" fill="#008500"/>
<rect x="359" y="546" width="18" height="8" fill="#007e09"/>
<rect x="359" y="554" width="18" height="8" fill="#007612"/>
<rect x="359" y="562" width="18" height="8" fill="#006f1b"/>
<rect x="359" y="570" width="18" height="8" fill="#006824"/>
<rect x="359" y="578" width="18" height="8" fill="#006429"/>
<rect x="359" y="586" width="18" height="8" fill="#00602d"/>
<rect x="359" y="594" width="18" height="8" fill="#005c32"/>
<rect x="359" y="602" width="18" height="8" fill="#004d44"/>
<rect x="359" y="610" width="18" height="8" fill="#00484b"/>
<rect x="359" y="618" width="18" height="8" fill="#004252"/>
<rect x="359" y="626" width="18" height="8" fill="#003d58"/>
<rect x="359" y="634" width="18" height="8" fill="#00375f"/>
<rect x="359" y="642" width="18" height="8" fill="#002f66"/>
<rect x="359" y="650" width="18" height="8" fill="#00266c"/>
<rect x="359" y="658" width="18" height="8" fill="#001e73"/>
<rect x="359" y="666" width="18" height="8" fill="#00167a"/>
<rect x="359" y="674" width="18" height="8" fill="#000688"/>
<rect x="359" y="682" width="18" height="8" fill="#04008a"/>
<rect x="359" y="690" width="18" height="128" fill="#0d0010"/>
<rect x="377" y="170" width="18" height="8" fill="#27006f"/>
<rect x="377" y="178" width="18" height="8" fill="#250071"/>
<rect x="377" y="186" width="18" height="8" fill="#230073"/>
<rect x="377" y="194" width="18" height="8" fill="#200076"/>
<rect x="377" y="202" width="18" height="8" fill="#1e0078"/>
<rect x="377" y="210" width="18" height="8" fill="#1c007a"/>
<rect x="377" y="218" width="18" height="8" fill="#1a007c"/>
<rect x="377" y="226" width="18" height="8" fill="#17007e"/>
<rect x="377" y="234" width="18" height="8" fill="#150080"/>
<rect x="377" y="242" width="18" height="8" fill="#110082"/>
<rect x="377" y="250" width="18" height="8" fill="#0c0084"/>
<rect x="377" y="258" width="18" height="8" fill="#080087"/>
<rect x="377" y="266" width="18" height="8" fill="#04008a"/>
<rect x="377" y="274" width="18" height="8" fill="#00107e"/>
<rect x="377" y="282" width="18" height="8" fill="#002c68"/>
<rect x="377" y="290" width="18" height="8" fill="#003e56"/>
<rect x="377" y="298" width="18" height="8" fill="#00543b"/>
<rect x="377" y="306" width="18" height="8" fill="#006b20"/>
<rect x="377" y="314" width="18" height="8" fill="#008105"/>
<rect x="377" y="322" width="18" height="8" fill="#339500"/>
<rect x="377" y="330" width="18" height="8" fill="#6ea700"/>
<rect x="377" y="338" width="18" height="8" fill="#90b300"/>
<rect x="377" y="346" width="18" height="8" fill="#b2c000"/>
<rect x="377" y="354" width="18" height="8" fill="#c1c600"/>
<rect x="377" y="362" width="18" height="8" fill="#c4c600"/>
<rect x="377" y="370" width="18" height="8" fill="#c6c700"/>
<rect x="377" y="378" width="18" height="8" fill="#c8c800"/>
<rect x="377" y="386" width="18" height="8" fill="#bdc400"/>
<rect x="377" y="394" width="18" height="8" fill="#acbe00"/>
<rect x="377" y="402" width="18" height="104" fill="#9bb800"/>
<rect x="377" y="506" width="18" height="8" fill="#94b500"/>
<rect x="377" y="514" width="18" height="8" fill="#8cb200"/>
<rect x="377" y="522" width="18" height="8" fill="#84af00"/>
<rect x="377" y="530" width="18" height="8" fill="#79ab00"/>
<rect x="377" y="538" width="18" height="8" fill="#6ea700"/>
<rect x="377" y="546" width="18" height="8" fill="#57a000"/>
<rect x="377" y="554" width="18" height="8" fill="#3f9900"/>
<rect x="377" y="562" width="18" height="8" fill="#2c9300"/>
<rect x="377" y="570" width="18" height="8" fill="#188c00"/>
<rect x="377" y="578" width="18" height="8" fill="#058600"/>
<rect x="377" y="586" width="18" height="8" fill="#008303"/>
<rect x="377" y="594" width="18" height="8" fill="#007e09"/>
<rect x="377" y="602" width="18" height="8" fill="#00790e"/>
<rect x="377" y="610" width="18" height="8" fill="#007415"/>
<rect x="377" y="618" width="18" height="8" fill="#006e1c"/>
<rect x="377" y="626" width="18" height="8" fill="#006923"/>
<rect x="377" y="634" width="18" height="8" fill="#006329"/>
<rect x="377" y="642" width="18" height="8" fill="#005935"/>
<rect x="377" y="650" width="18" height="8" fill="#005041"/>
<rect x="377" y="658" width="18" height="8" fill="#00464d"/>
<rect x="377" y="666" width="18" height="8" fill="#003e56"/>
<rect x="377" y="674" width="18" height="8" fill="#00375f"/>
<rect x="377" y="682" width="18" height="8" fill="#002c68"/>
<rect x="377" y="690" width="18" height="128" fill="#0d0010"/>
<rect x="395" y="170" width="18" height="8" fill="#27006f"/>
<rect x="395" y="178" width="18" height="8" fill="#250071"/>
<rect x="395" y="186" width="18" height="8" fill="#220074"/>
<rect x="395" y="194" width="18" height="8" fill="#200076"/>
<rect x="395" y="202" width="18" height="8" fill="#1e0078"/>
<rect x="395" y="210" width="18" height="8" fill="#1b007b"/>
<rect x="395" y="218" width="18" height="8" fill="#19007d"/>
<rect x="395" y="226" width="18" height="8" fill="#16007e"/>
<rect x="395" y="234" width="18" height="8" fill="#120081"/>
<rect x="395" y="242" width="18" height="8" fill="#0d0084"/>
<rect x="395" y="250" width="18" height="8" fill="#080087"/>
<rect x="395" y="258" width="18" height="8" fill="#03008a"/>
<rect x="395" y="266" width="18" height="8" fill="#000985"/>
<rect x="395" y="274" width="18" height="8" fill="#002171"/>
<rect x="395" y="282" width="18" height="8" fill="#003b5a"/>
<rect x="395" y="290" width="18" height="8" fill="#00543b"/>
<rect x="395" y="298" width="18" height="8" fill="#007c0b"/>
<rect x="395" y="306" width="18" height="8" fill="#339500"/>
<rect x="395" y="314" width="18" height="8" fill="#6ea700"/>
<rect x="395" y="322" width="18" height="8" fill="#c1c600"/>
<rect x="395" y="330" width="18" height="8" fill="#cfa100"/>
<rect x="395" y="338" width="18" height="8" fill="#d48700"/>
<rect x="395" y="346" width="18" height="8" fill="#d48500"/>
<rect x="395" y="354" width="18" height="8" fill="#d38300"/>
<rect x="395" y="362" width="18" height="8" fill="#d38100"/>
<rect x="395" y="370" width="18" height="8" fill="#d27f00"/>
<rect x="395" y="378" width="18" height="8" fill="#d27d00"/>
<rect x="395" y="386" width="18" height="8" fill="#d38b00"/>
<rect x="395" y="394" width="18" height="8" fill="#d19600"/>
<rect x="395" y="402" width="18" height="8" fill="#cfa400"/>
<rect x="395" y="410" width="18" height="64" fill="#ccb200"/>
<rect x="395" y="474" width="18" height="8" fill="#cfa400"/>
<rect x="395" y="482" width="18" height="8" fill="#d19600"/>
<rect x="395" y="490" width="18" height="8" fill="#d19500"/>
<rect x="395" y="498" width="18" height="8" fill="#d29400"/>
<rect x="395" y="506" width="18" height="8" fill="#d29300"/>
<rect x="395" y="514" width="18" height="8" fill="#d29200"/>
<rect x="395" y="522" width="18" height="8" fill="#cfa200"/>
<rect x="395" y="530" width="18" height="8" fill="#ccb200"/>
<rect x="395" y="538" width="18" height="8" fill="#c3c600"/>
<rect x="395" y="546" width="18" height="8" fill="#b2c000"/>
<rect x="395" y="554" width="18" height="8" fill="#9bb800"/>
<rect x="395" y="562" width="18" height="8" fill="#84af00"/>
<rect x="395" y="570" width="18" height="8" fill="#75a900"/>
<rect x="395" y="578" width="18" height="8" fill="#69a600"/>
<rect x="395" y="586" width="18" height="8" fill="#5aa100"/>
<rect x="395" y="594" width="18" height="8" fill="#4b9c00"/>
<rect x="395" y="602" width="18" height="8" fill="#3f9900"/>
<rect x="395" y="610" width="18" height="8" fill="#289100"/>
<rect x="395" y="618" width="18" height="8" fill="#108a00"/>
<rect x="395" y="626" width="18" height="8" fill="#008105"/>
<rect x="395" y="634" width="18" height="8" fill="#00790e"/>
<rect x="395" y="642" width="18" height="8" fill="#007217"/>
<rect x="395" y="650" width="18" height="8" fill="#006b20"/>
<rect x="395" y="658" width="18" height="8" fill="#006329"/>
<rect x="395" y="666" width="18" height="8" fill="#005c32"/>
<rect x="395" y="674" width="18" height="8" fill="#00543b"/>
<rect x="395" y="682" width="18" height="8" fill="#003e56"/>
<rect x="395" y="690" width="18" height="8" fill="#002171"/>
<rect x="395" y="698" width="18" height="120" fill="#0d0010"/>
<rect x="413" y="170" width="18" height="8" fill="#230073"/>
<rect x="413" y="178" width="18" height="8" fill="#210075"/>
<rect x="413" y="186" width="18" height="8" fill="#1e0078"/>
<rect x="413" y="194" width="18" height="8" fill="#1b007b"/>
<rect x="413" y="202" width="18" height="8" fill="#19007d"/>
<rect x="413" y="210" width="18" height="8" fill="#16007f"/>
<rect x="413" y="218" width="18" height="8" fill="#120081"/>
<rect x="413" y="226" width="18" height="8" fill="#0e0084"/>
<rect x="413" y="234" width="18" height="8" fill="#0a0086"/>
<rect x="413" y="242" width="18" height="8" fill="#060088"/>
<rect x="413" y="250" width="18" height="8" fill="#01008b"/>
<rect x="413" y="258" width="18" height="8" fill="#000985"/>
<rect x="413" y="266" width="18" height="8" fill="#00256d"/>
<rect x="413" y="274" width="18" height="8" fill="#003e56"/>
<rect x="413" y="282" width="18" height="8" fill="#00602d"/>
<rect x="413" y="290" width="18" height="8" fill="#008500"/>
<rect x="413" y="298" width="18" height="8" fill="#4b9c00"/>
<rect x="413" y="306" width="18" height="8" fill="#96b600"/>
<rect x="413" y="314" width="18" height="8" fill="#ccb200"/>
<rect x="413" y="322" width="18" height="8" fill="#cf6d00"/>
<rect x="413" y="330" width="18" height="8" fill="#c82e00"/>
<rect x="413" y="338" width="18" height="48" fill="#c82000"/>
<rect x="413" y="386" width="18" height="8" fill="#c84400"/>
<rect x="413" y="394" width="18" height="8" fill="#c94e00"/>
<rect x="413" y="402" width="18" height="8" fill="#cb5b00"/>
<rect x="413" y="410" width="18" height="16" fill="#cb5c00"/>
<rect x="413" y="426" width="18" height="16" fill="#cc5d00"/>
<rect x="413" y="442" width="18" height="16" fill="#cc5e00"/>
<rect x="413" y="458" width="18" height="8" fill="#cc5f00"/>
<rect x="413" y="466" width="18" height="8" fill="#cb5800"/>
<rect x="413" y="474" width="18" height="8" fill="#c95100"/>
<rect x="413" y="482" width="18" height="16" fill="#c95200"/>
<rect x="413" y="498" width="18" height="16" fill="#ca5300"/>
<rect x="413" y="514" width="18" height="16" fill="#ca5400"/>
<rect x="413" y="530" width="18" height="8" fill="#ca5500"/>
<rect x="413" y="538" width="18" height="8" fill="#ce6900"/>
<rect x="413" y="546" width="18" height="8" fill="#d27d00"/>
<rect x="413" y="554" width="18" height="8" fill="#d38b00"/>
<rect x="413" y="562" width="18" height="8" fill="#cea800"/>
<rect x="413" y="570" width="18" height="8" fill="#c3c600"/>
<rect x="413" y="578" width="18" height="8" fill="#b6c100"/>
<rect x="413" y="586" width="18" height="8" fill="#9bb800"/>
<rect x="413" y="594" width="18" height="8" fill="#8bb200"/>
<rect x="413" y="602" width="18" height="8" fill="#79ab00"/>
<rect x="413" y="610" width="18" height="8" fill="#5ca200"/>
<rect x="413" y="618" width="18" height="8" fill="#3f9900"/>
<rect x="413" y="626" width="18" height="8" fill="#289100"/>
<rect x="413" y="634" width="18" height="8" fill="#108a00"/>
<rect x="413" y="642" width="18" height="8" fill="#008105"/>
<rect x="413" y="650" width="18" height="8" fill="#00790e"/>
<rect x="413" y="658" width="18" height="8" fill="#007217"/>
<rect x="413" y="666" width="18" height="8" fill="#006b20"/>
<rect x="413" y="674" width="18" height="8" fill="#00612c"/>
<rect x="413" y="682" width="18" height="8" fill="#005738"/>
<rect x="413" y="690" width="18" height="8" fill="#004d44"/>
<rect x="413" y="698" width="18" height="120" fill="#0d0010"/>
<rect x="431" y="170" width="18" height="8" fill="#200076"/>
<rect x="431" y="178" width="18" height="8" fill="#1d0079"/>
<rect x="431" y="186" width="18" height="8" fill="#1b007b"/>
<rect x="431" y="194" width="18" height="8" fill="#18007d"/>
<rect x="431" y="202" width="18" height="8" fill="#15007f"/>
<rect x="431" y="210" width="18" height="8" fill="#120081"/>
<rect x="431" y="218" width="18" height="8" fill="#0e0084"/>
<rect x="431" y="226" width="18" height="8" fill="#0a0086"/>
<rect x="431" y="234" width="18" height="8" fill="#060088"/>
<rect x="431" y="242" width="18" height="8" fill="#01008b"/>
<rect x="431" y="250" width="18" height="8" fill="#000985"/>
<rect x="431" y="258" width="18" height="8" fill="#002171"/>
<rect x="431" y="266" width="18" height="8" fill="#00375f"/>
<rect x="431" y="274" width="18" height="8" fill="#004d44"/>
<rect x="431" y="282" width="18" height="8" fill="#007217"/>
<rect x="431" y="290" width="18" height="8" fill="#1c8e00"/>
<rect x="431" y="298" width="18" height="8" fill="#6ea700"/>
<rect x="431" y="306" width="18" height="8" fill="#c8c800"/>
<rect x="431" y="314" width="18" height="8" fill="#d17900"/>
<rect x="431" y="322" width="18" height="8" fill="#c82a00"/>
<rect x="431" y="330" width="18" height="8" fill="#e20800"/>
<rect x="431" y="338" width="18" height="8" fill="#e60500"/>
<rect x="431" y="346" width="18" height="40" fill="#ea0400"/>
<rect x="431" y="386" width="18" height="8" fill="#d31600"/>
<rect x="431" y="394" width="18" height="8" fill="#d01900"/>
<rect x="431" y="402" width="18" height="8" fill="#cf1900"/>
<rect x="431" y="410" width="18" height="24" fill="#cf1a00"/>
<rect x="431" y="434" width="18" height="16" fill="#ce1a00"/>
<rect x="431" y="450" width="18" height="8" fill="#ce1b00"/>
<rect x="431" y="458" width="18" height="8" fill="#d31600"/>
<rect x="431" y="466" width="18" height="8" fill="#d41600"/>
<rect x="431" y="474" width="18" height="24" fill="#d41500"/>
<rect x="431" y="498" width="18" height="24" fill="#d51400"/>
<rect x="431" y="522" width="18" height="8" fill="#d61400"/>
<rect x="431" y="530" width="18" height="16" fill="#d61300"/>
<rect x="431" y="546" width="18" height="8" fill="#d71300"/>
<rect x="431" y="554" width="18" height="8" fill="#d71200"/>
<rect x="431" y="562" width="18" height="8" fill="#cc1d00"/>
<rect x="431" y="570" width="18" height="8" fill="#c82e00"/>
<rect x="431" y="578" width="18" height="8" fill="#ca5500"/>
<rect x="431" y="586" width="18" height="8" fill="#d07300"/>
<rect x="431" y="594" width="18" height="8" fill="#cea800"/>
<rect x="431" y="602" width="18" height="8" fill="#cabd00"/>
<rect x="431" y="610" width="18" height="8" fill="#9bb800"/>
<rect x="431" y="618" width="18" height="8" fill="#8ab100"/>
<rect x="431" y="626" width="18" height="8" fill="#79ab00"/>
<rect x="431" y="634" width="18" height="8" fill="#57a000"/>
<rect x="431" y="642" width="18" height="8" fill="#339500"/>
<rect x="431" y="650" width="18" height="8" fill="#208f00"/>
<rect x="431" y="658" width="18" height="8" fill="#0c8900"/>
<rect x="431" y="666" width="18" height="8" fill="#008105"/>
<rect x="431" y="674" width="18" height="8" fill="#007711"/>
<rect x="431" y="682" width="18" height="8" fill="#006d1d"/>
<rect x="431" y="690" width="18" height="8" fill="#006329"/>
<rect x="431" y="698" width="18" height="8" fill="#005738"/>
<rect x="431" y="706" width="18" height="112" fill="#0d0010"/>
<rect x="449" y="170" width="18" height="8" fill="#1c007a"/>
<rect x="449" y="178" width="18" height="8" fill="#1a007c"/>
<rect x="449" y="186" width="18" height="8" fill="#18007e"/>
<rect x="449" y="194" width="18" height="8" fill="#15007f"/>
<rect x="449" y="202" width="18" height="8" fill="#120081"/>
<rect x="449" y="210" width="18" height="8" fill="#0e0084"/>
<rect x="449" y="218" width="18" height="8" fill="#0a0086"/>
<rect x="449" y="226" width="18" height="8" fill="#060088"/>
<rect x="449" y="234" width="18" height="8" fill="#02008b"/>
<rect x="449" y="242" width="18" height="8" fill="#000787"/>
<rect x="449" y="250" width="18" height="8" fill="#001a76"/>
<rect x="449" y="258" width="18" height="8" fill="#003064"/>
<rect x="449" y="266" width="18" height="8" fill="#004351"/>
<rect x="449" y="274" width="18" height="8" fill="#005936"/>
<rect x="449" y="282" width="18" height="8" fill="#007514"/>
<rect x="449" y="290" width="18" height="8" fill="#108a00"/>
<rect x="449" y="298" width="18" height="8" fill="#5ea200"/>
<rect x="449" y="306" width="18" height="8" fill="#bdc400"/>
<rect x="449" y="314" width="18" height="8" fill="#d38100"/>
<rect x="449" y="322" width="18" height="8" fill="#c82a00"/>
<rect x="449" y="330" width="18" height="8" fill="#f10300"/>
<rect x="449" y="338" width="18" height="48" fill="#ff0000"/>
<rect x="449" y="386" width="18" height="8" fill="#f70200"/>
<rect x="449" y="394" width="18" height="104" fill="#f20200"/>
<rect x="449" y="498" width="18" height="8" fill="#f90100"/>
<rect x="449" y="506" width="18" height="72" fill="#ff0000"/>
<rect x="449" y="578" width="18" height="8" fill="#ea0400"/>
<rect x="449" y="586" width="18" height="8" fill="#e20800"/>
<rect x="449" y="594" width="18" height="8" fill="#cc1d00"/>
<rect x="449" y="602" width="18" height="8" fill="#c84400"/>
<rect x="449" y="610" width="18" height="8" fill="#d27d00"/>
<rect x="449" y="618" width="18" height="8" fill="#d09d00"/>
<rect x="449" y="626" width="18" height="8" fill="#bdc400"/>
<rect x="449" y="634" width="18" height="8" fill="#9bb800"/>
<rect x="449" y="642" width="18" height="8" fill="#84af00"/>
<rect x="449" y="650" width="18" height="8" fill="#6ea700"/>
<rect x="449" y="658" width="18" height="8" fill="#519e00"/>
<rect x="449" y="666" width="18" height="8" fill="#339500"/>
<rect x="449" y="674" width="18" height="8" fill="#168c00"/>
<rect x="449" y="682" width="18" height="8" fill="#008105"/>
<rect x="449" y="690" width="18" height="8" fill="#007613"/>
<rect x="449" y="698" width="18" height="8" fill="#006b20"/>
<rect x="449" y="706" width="18" height="8" fill="#005c32"/>
<rect x="449" y="714" width="18" height="104" fill="#0d0010"/>
<rect x="467" y="170" width="18" height="8" fill="#030004"/>
<rect x="467" y="178" width="18" height="8" fill="#1c007a"/>
<rect x="467" y="186" width="18" height="8" fill="#1b007b"/>
<rect x="467" y="194" width="18" height="8" fill="#19007d"/>
<rect x="467" y="202" width="18" height="8" fill="#120081"/>
<rect x="467" y="210" width="18" height="8" fill="#0b0085"/>
<rect x="467" y="218" width="18" height="8" fill="#04008a"/>
<rect x="467" y="226" width="18" height="8" fill="#00008c"/>
<rect x="467" y="234" width="18" height="8" fill="#000b83"/>
<rect x="467" y="242" width="18" height="8" fill="#00167a"/>
<rect x="467" y="250" width="18" height="8" fill="#00266c"/>
<rect x="467" y="258" width="18" height="8" fill="#00375f"/>
<rect x="467" y="266" width="18" height="8" fill="#004949"/>
<rect x="467" y="274" width="18" height="8" fill="#005c32"/>
<rect x="467" y="282" width="18" height="8" fill="#006e1c"/>
<rect x="467" y="290" width="18" height="8" fill="#008105"/>
<rect x="467" y="298" width="18" height="8" fill="#6ea700"/>
<rect x="467" y="306" width="18" height="8" fill="#bdc400"/>
<rect x="467" y="314" width="18" height="8" fill="#d48700"/>
<rect x="467" y="322" width="18" height="8" fill="#c83d00"/>
<rect x="467" y="330" width="18" height="8" fill="#e20800"/>
<rect x="467" y="338" width="18" height="8" fill="#ff0000"/>
<rect x="467" y="346" width="18" height="8" fill="#ff3333"/>
<rect x="467" y="354" width="18" height="8" fill="#ff7878"/>
<rect x="467" y="362" width="18" height="24" fill="#ff9999"/>
<rect x="467" y="386" width="18" height="8" fill="#ff8080"/>
<rect x="467" y="394" width="18" height="8" fill="#ff6666"/>
<rect x="467" y="402" width="18" height="8" fill="#ff5959"/>
<rect x="467" y="410" width="18" height="8" fill="#ff4545"/>
<rect x="467" y="418" width="18" height="8" fill="#ff2626"/>
<rect x="467" y="426" width="18" height="8" fill="#ff1a1a"/>
<rect x="467" y="434" width="18" height="96" fill="#ff0000"/>
<rect x="467" y="530" width="18" height="16" fill="#ff1a1a"/>
<rect x="467" y="546" width="18" height="8" fill="#ff4040"/>
<rect x="467" y="554" width="18" height="8" fill="#ff5959"/>
<rect x="467" y="562" width="18" height="8" fill="#ff6e6e"/>
<rect x="467" y="570" width="18" height="16" fill="#ff7878"/>
<rect x="467" y="586" width="18" height="8" fill="#ff5959"/>
<rect x="467" y="594" width="18" height="8" fill="#ff2626"/>
<rect x="467" y="602" width="18" height="8" fill="#fb0100"/>
<rect x="467" y="610" width="18" height="8" fill="#de0c00"/>
<rect x="467" y="618" width="18" height="8" fill="#c82700"/>
<rect x="467" y="626" width="18" height="8" fill="#d27d00"/>
<rect x="467" y="634" width="18" height="8" fill="#ccb200"/>
<rect x="467" y="642" width="18" height="8" fill="#a6bc00"/>
<rect x="467" y="650" width="18" height="8" fill="#75a900"/>
<rect x="467" y="658" width="18" height="8" fill="#3f9900"/>
<rect x="467" y="666" width="18" height="8" fill="#108a00"/>
<rect x="467" y="674" width="18" height="8" fill="#008105"/>
<rect x="467" y="682" width="18" height="8" fill="#007217"/>
<rect x="467" y="690" width="18" height="8" fill="#006329"/>
<rect x="467" y="698" width="18" height="8" fill="#005c32"/>
<rect x="467" y="706" width="18" height="8" fill="#004d44"/>
<rect x="467" y="714" width="18" height="8" fill="#003e56"/>
<rect x="467" y="722" width="18" height="8" fill="#00375f"/>
<rect x="467" y="730" width="18" height="88" fill="#0d0010"/>
<rect x="485" y="170" width="18" height="24" fill="#030004"/>
<rect x="485" y="194" width="18" height="8" fill="#1c007a"/>
<rect x="485" y="202" width="18" height="8" fill="#17007e"/>
<rect x="485" y="210" width="18" height="8" fill="#110082"/>
<rect x="485" y="218" width="18" height="8" fill="#0a0086"/>
<rect x="485" y="226" width="18" height="8" fill="#04008a"/>
<rect x="485" y="234" width="18" height="8" fill="#00008c"/>
<rect x="485" y="242" width="18" height="8" fill="#000b83"/>
<rect x="485" y="250" width="18" height="8" fill="#00167a"/>
<rect x="485" y="258" width="18" height="8" fill="#00266c"/>
<rect x="485" y="266" width="18" height="8" fill="#00375f"/>
<rect x="485" y="274" width="18" height="8" fill="#004949"/>
<rect x="485" y="282" width="18" height="8" fill="#005c32"/>
<rect x="485" y="290" width="18" height="8" fill="#00790e"/>
<rect x="485" y="298" width="18" height="8" fill="#108a00"/>
<rect x="485" y="306" width="18" height="8" fill="#6ea700"/>
<rect x="485" y="314" width="18" height="8" fill="#b2c000"/>
<rect x="485" y="322" width="18" height="8" fill="#d48700"/>
<rect x="485" y="330" width="18" height="8" fill="#c83d00"/>
<rect x="485" y="338" width="18" height="8" fill="#e20800"/>
<rect x="485" y="346" width="18" height="8" fill="#ff0000"/>
<rect x="485" y="354" width="18" height="8" fill="#ff5959"/>
<rect x="485" y="362" width="18" height="8" fill="#ffabab"/>
<rect x="485" y="370" width="18" height="8" fill="#ffe6e6"/>
<rect x="485" y="378" width="18" height="24" fill="#ffffff"/>
<rect x="485" y="402" width="18" height="8" fill="#fff2f2"/>
<rect x="485" y="410" width="18" height="8" fill="#ffdbdb"/>
<rect x="485" y="418" width="18" height="8" fill="#ffbfbf"/>
<rect x="485" y="426" width="18" height="8" fill="#ffa1a1"/>
<rect x="485" y="434" width="18" height="8" fill="#ff9999"/>
<rect x="485" y="442" width="18" height="8" fill="#ff8080"/>
<rect x="485" y="450" width="18" height="8" fill="#ff6e6e"/>
<rect x="485" y="458" width="18" height="8" fill="#ff5e5e"/>
<rect x="485" y="466" width="18" height="8" fill="#ff4c4c"/>
<rect x="485" y="474" width="18" height="16" fill="#ff3b3b"/>
<rect x="485" y="490" width="18" height="16" fill="#ff2626"/>
<rect x="485" y="506" width="18" height="24" fill="#ff1a1a"/>
<rect x="485" y="530" width="18" height="8" fill="#ff2626"/>
<rect x="485" y="538" width="18" height="8" fill="#ff2e2e"/>
<rect x="485" y="546" width="18" height="8" fill="#ff5959"/>
<rect x="485" y="554" width="18" height="8" fill="#ff7878"/>
<rect x="485" y="562" width="18" height="8" fill="#ff9999"/>
<rect x="485" y="570" width="18" height="8" fill="#ffabab"/>
<rect x="485" y="578" width="18" height="8" fill="#ffbfbf"/>
<rect x="485" y="586" width="18" height="8" fill="#ffabab"/>
<rect x="485" y="594" width="18" height="16" fill="#ff7878"/>
<rect x="485" y="610" width="18" height="8" fill="#ff3333"/>
<rect x="485" y="618" width="18" height="8" fill="#fb0100"/>
<rect x="485" y="626" width="18" height="8" fill="#d71200"/>
<rect x="485" y="634" width="18" height="8" fill="#c84400"/>
<rect x="485" y="642" width="18" height="8" fill="#d48700"/>
<rect x="485" y="650" width="18" height="8" fill="#bdc400"/>
<rect x="485" y="658" width="18" height="8" fill="#75a900"/>
<rect x="485" y="666" width="18" height="8" fill="#339500"/>
<rect x="485" y="674" width="18" height="8" fill="#058600"/>
<rect x="485" y="682" width="18" height="8" fill="#007612"/>
<rect x="485" y="690" width="18" height="8" fill="#006329"/>
<rect x="485" y="698" width="18" height="8" fill="#005738"/>
<rect x="485" y="706" width="18" height="8" fill="#00464d"/>
<rect x="485" y="714" width="18" height="8" fill="#003b5a"/>
<rect x="485" y="722" width="18" height="8" fill="#002e66"/>
<rect x="485" y="730" width="18" height="8" fill="#002171"/>
<rect x="485" y="738" width="18" height="80" fill="#0d0010"/>
<rect x="503" y="170" width="18" height="32" fill="#030004"/>
<rect x="503" y="202" width="18" height="8" fill="#19007d"/>
<rect x="503" y="210" width="18" height="8" fill="#120081"/>
<rect x="503" y="218" width="18" height="8" fill="#0b0085"/>
<rect x="503" y="226" width="18" height="8" fill="#04008a"/>
<rect x="503" y="234" width="18" height="8" fill="#00008c"/>
<rect x="503" y="242" width="18" height="8" fill="#000b83"/>
<rect x="503" y="250" width="18" height="8" fill="#00167a"/>
<rect x="503" y="258" width="18" height="8" fill="#002171"/>
<rect x="503" y="266" width="18" height="8" fill="#003363"/>
<rect x="503" y="274" width="18" height="8" fill="#003e56"/>
<rect x="503" y="282" width="18" height="8" fill="#004d44"/>
<rect x="503" y="290" width="18" height="8" fill="#005c32"/>
<rect x="503" y="298" width="18" height="8" fill="#00790e"/>
<rect x="503" y="306" width="18" height="8" fill="#108a00"/>
<rect x="503" y="314" width="18" height="8" fill="#6ea700"/>
<rect x="503" y="322" width="18" height="8" fill="#9bb800"/>
<rect x="503" y="330" width="18" height="8" fill="#d09d00"/>
<rect x="503" y="338" width="18" height="8" fill="#cc5f00"/>
<rect x="503" y="346" width="18" height="8" fill="#d31600"/>
<rect x="503" y="354" width="18" height="8" fill="#ee0300"/>
<rect x="503" y="362" width="18" height="8" fill="#ff3b3b"/>
<rect x="503" y="370" width="18" height="8" fill="#ffa1a1"/>
<rect x="503" y="378" width="18" height="72" fill="#ffffff"/>
<rect x="503" y="450" width="18" height="8" fill="#ffe0e0"/>
<rect x="503" y="458" width="18" height="8" fill="#ffbfbf"/>
<rect x="503" y="466" width="18" height="8" fill="#ffa1a1"/>
<rect x="503" y="474" width="18" height="8" fill="#ff8c8c"/>
<rect x="503" y="482" width="18" height="8" fill="#ff7878"/>
<rect x="503" y="490" width="18" height="8" fill="#ff6e6e"/>
<rect x="503" y="498" width="18" height="16" fill="#ff6666"/>
<rect x="503" y="514" width="18" height="32" fill="#ff4f4f"/>
<rect x="503" y="546" width="18" height="8" fill="#ff6666"/>
<rect x="503" y="554" width="18" height="8" fill="#ff7878"/>
<rect x="503" y="562" width="18" height="8" fill="#ff9999"/>
<rect x="503" y="570" width="18" height="8" fill="#ffb2b2"/>
<rect x="503" y="578" width="18" height="16" fill="#ffc7c7"/>
<rect x="503" y="594" width="18" height="8" fill="#ffbfbf"/>
<rect x="503" y="602" width="18" height="8" fill="#ffabab"/>
<rect x="503" y="610" width="18" height="8" fill="#ff8c8c"/>
<rect x="503" y="618" width="18" height="8" fill="#ff3b3b"/>
<rect x="503" y="626" width="18" height="8" fill="#fb0100"/>
<rect x="503" y="634" width="18" height="8" fill="#db0f00"/>
<rect x="503" y="642" width="18" height="8" fill="#c84b00"/>
<rect x="503" y="650" width="18" height="8" fill="#d29200"/>
<rect x="503" y="658" width="18" height="8" fill="#a6bc00"/>
<rect x="503" y="666" width="18" height="8" fill="#57a000"/>
<rect x="503" y="674" width="18" height="8" fill="#108a00"/>
<rect x="503" y="682" width="18" height="8" fill="#007612"/>
<rect x="503" y="690" width="18" height="8" fill="#00602d"/>
<rect x="503" y="698" width="18" height="8" fill="#004d44"/>
<rect x="503" y="706" width="18" height="8" fill="#003b5a"/>
<rect x="503" y="714" width="18" height="8" fill="#002a6a"/>
<rect x="503" y="722" width="18" height="8" fill="#001f73"/>
<rect x="503" y="730" width="18" height="8" fill="#00167a"/>
<rect x="503" y="738" width="18" height="8" fill="#000b83"/>
<rect x="503" y="746" width="18" height="8" fill="#00008c"/>
<rect x="503" y="754" width="18" height="64" fill="#0d0010"/>
<rect x="521" y="170" width="18" height="48" fill="#030004"/>
<rect x="521" y="218" width="18" height="8" fill="#110082"/>
<rect x="521" y="226" width="18" height="8" fill="#0a0086"/>
<rect x="521" y="234" width="18" height="8" fill="#04008a"/>
<rect x="521" y="242" width="18" height="8" fill="#02008b"/>
<rect x="521" y="250" width="18" height="8" fill="#000885"/>
<rect x="521" y="258" width="18" height="8" fill="#00157b"/>
<rect x="521" y="266" width="18" height="8" fill="#002171"/>
<rect x="521" y="274" width="18" height="8" fill="#00375f"/>
<rect x="521" y="282" width="18" height="8" fill="#00464d"/>
<rect x="521" y="290" width="18" height="8" fill="#00543b"/>
<rect x="521" y="298" width="18" height="8" fill="#006329"/>
<rect x="521" y="306" width="18" height="8" fill="#00790e"/>
<rect x="521" y="314" width="18" height="8" fill="#058600"/>
<rect x="521" y="322" width="18" height="8" fill="#3f9900"/>
<rect x="521" y="330" width="18" height="8" fill="#79ab00"/>
<rect x="521" y="338" width="18" height="8" fill="#bdc400"/>
<rect x="521" y="346" width="18" height="8" fill="#d29200"/>
<rect x="521" y="354" width="18" height="8" fill="#c84400"/>
<rect x="521" y="362" width="18" height="8" fill="#d31600"/>
<rect x="521" y="370" width="18" height="8" fill="#fb0100"/>
<rect x="521" y="378" width="18" height="8" fill="#ff6666"/>
<rect x="521" y="386" width="18" height="8" fill="#ffd6d6"/>
<rect x="521" y="394" width="18" height="72" fill="#ffffff"/>
<rect x="521" y="466" width="18" height="8" fill="#ffebeb"/>
<rect x="521" y="474" width="18" height="8" fill="#ffc7c7"/>
<rect x="521" y="482" width="18" height="8" fill="#ffa1a1"/>
<rect x="521" y="490" width="18" height="8" fill="#ff8080"/>
<rect x="521" y="498" width="18" height="8" fill="#ff6e6e"/>
<rect x="521" y="506" width="18" height="8" fill="#ff5959"/>
<rect x="521" y="514" width="18" height="16" fill="#ff4545"/>
<rect x="521" y="530" width="18" height="32" fill="#ff3333"/>
<rect x="521" y="562" width="18" height="16" fill="#ff4c4c"/>
<rect x="521" y="578" width="18" height="24" fill="#ff6e6e"/>
<rect x="521" y="602" width="18" height="8" fill="#ff8080"/>
<rect x="521" y="610" width="18" height="8" fill="#ff6e6e"/>
<rect x="521" y="618" width="18" height="8" fill="#ff4545"/>
<rect x="521" y="626" width="18" height="8" fill="#ff0505"/>
<rect x="521" y="634" width="18" height="8" fill="#de0c00"/>
<rect x="521" y="642" width="18" height="8" fill="#c83d00"/>
<rect x="521" y="650" width="18" height="8" fill="#d48700"/>
<rect x="521" y="658" width="18" height="8" fill="#adbe00"/>
<rect x="521" y="666" width="18" height="8" fill="#57a000"/>
<rect x="521" y="674" width="18" height="8" fill="#108a00"/>
<rect x="521" y="682" width="18" height="8" fill="#007612"/>
<rect x="521" y="690" width="18" height="8" fill="#00602d"/>
<rect x="521" y="698" width="18" height="8" fill="#004d44"/>
<rect x="521" y="706" width="18" height="8" fill="#003b5a"/>
<rect x="521" y="714" width="18" height="8" fill="#002a6a"/>
<rect x="521" y="722" width="18" height="16" fill="#001a76"/>
<rect x="521" y="738" width="18" height="8" fill="#000787"/>
<rect x="521" y="746" width="18" height="8" fill="#00028a"/>
<rect x="521" y="754" width="18" height="8" fill="#01008c"/>
<rect x="521" y="762" width="18" height="8" fill="#03008a"/>
<rect x="521" y="770" width="18" height="48" fill="#0d0010"/>
<rect x="539" y="170" width="18" height="64" fill="#030004"/>
<rect x="539" y="234" width="18" height="8" fill="#0c0084"/>
<rect x="539" y="242" width="18" height="8" fill="#04008a"/>
<rect x="539" y="250" width="18" height="8" fill="#03008a"/>
<rect x="539" y="258" width="18" height="8" fill="#000688"/>
<rect x="539" y="266" width="18" height="8" fill="#00127e"/>
<rect x="539" y="274" width="18" height="8" fill="#001d75"/>
<rect x="539" y="282" width="18" height="8" fill="#003064"/>
<rect x="539" y="290" width="18" height="8" fill="#003b5a"/>
<rect x="539" y="298" width="18" height="8" fill="#004c46"/>
<rect x="539" y="306" width="18" height="8" fill="#005c32"/>
<rect x="539" y="314" width="18" height="8" fill="#006c1e"/>
<rect x="539" y="322" width="18" height="8" fill="#007c0b"/>
<rect x="539" y="330" width="18" height="8" fill="#008500"/>
<rect x="539" y="338" width="18" height="8" fill="#3f9900"/>
<rect x="539" y="346" width="18" height="8" fill="#79ab00"/>
<rect x="539" y="354" width="18" height="8" fill="#bdc400"/>
<rect x="539" y="362" width="18" height="8" fill="#d29200"/>
<rect x="539" y="370" width="18" height="8" fill="#c84400"/>
<rect x="539" y="378" width="18" height="8" fill="#db0f00"/>
<rect x="539" y="386" width="18" height="8" fill="#fb0100"/>
<rect x="539" y="394" width="18" height="8" fill="#ff6666"/>
<rect x="539" y="402" width="18" height="8" fill="#ffc7c7"/>
<rect x="539" y="410" width="18" height="56" fill="#ffffff"/>
<rect x="539" y="466" width="18" height="8" fill="#ffdbdb"/>
<rect x="539" y="474" width="18" height="8" fill="#ffb2b2"/>
<rect x="539" y="482" width="18" height="8" fill="#ff8c8c"/>
<rect x="539" y="490" width="18" height="8" fill="#ff6e6e"/>
<rect x="539" y="498" width="18" height="8" fill="#ff4c4c"/>
<rect x="539" y="506" width="18" height="8" fill="#ff3333"/>
<rect x="539" y="514" width="18" height="8" fill="#ff1f1f"/>
<rect x="539" y="522" width="18" height="8" fill="#ff0000"/>
<rect x="539" y="530" width="18" height="16" fill="#fe0000"/>
<rect x="539" y="546" width="18" height="16" fill="#fd0000"/>
<rect x="539" y="562" width="18" height="8" fill="#fe0000"/>
<rect x="539" y="570" width="18" height="8" fill="#ff0101"/>
<rect x="539" y="578" width="18" height="8" fill="#ff0505"/>
<rect x="539" y="586" width="18" height="8" fill="#ff0909"/>
<rect x="539" y="594" width="18" height="8" fill="#ff0d0d"/>
<rect x="539" y="602" width="18" height="8" fill="#ff2626"/>
<rect x="539" y="610" width="18" height="8" fill="#ff1f1f"/>
<rect x="539" y="618" width="18" height="8" fill="#ff0808"/>
<rect x="539" y="626" width="18" height="8" fill="#f70200"/>
<rect x="539" y="634" width="18" height="8" fill="#de0c00"/>
<rect x="539" y="642" width="18" height="8" fill="#c83d00"/>
<rect x="539" y="650" width="18" height="8" fill="#d48700"/>
<rect x="539" y="658" width="18" height="8" fill="#b2c000"/>
<rect x="539" y="666" width="18" height="8" fill="#57a000"/>
<rect x="539" y="674" width="18" height="8" fill="#108a00"/>
<rect x="539" y="682" width="18" height="8" fill="#007612"/>
<rect x="539" y="690" width="18" height="8" fill="#006329"/>
<rect x="539" y="698" width="18" height="8" fill="#00543b"/>
<rect x="539" y="706" width="18" height="8" fill="#004351"/>
<rect x="539" y="714" width="18" height="8" fill="#00375f"/>
<rect x="539" y="722" width="18" height="32" fill="#00256d"/>
<rect x="539" y="754" width="18" height="32" fill="#00167a"/>
<rect x="539" y="786" width="18" height="32" fill="#0d0010"/>
<rect x="557" y="170" width="18" height="80" fill="#030004"/>
<rect x="557" y="250" width="18" height="8" fill="#0c0084"/>
<rect x="557" y="258" width="18" height="8" fill="#04008a"/>
<rect x="557" y="266" width="18" height="8" fill="#03008a"/>
<rect x="557" y="274" width="18" height="8" fill="#000688"/>
<rect x="557" y="282" width="18" height="8" fill="#00127e"/>
<rect x="557" y="290" width="18" height="8" fill="#001d75"/>
<rect x="557" y="298" width="18" height="8" fill="#003064"/>
<rect x="557" y="306" width="18" height="8" fill="#003b5a"/>
<rect x="557" y="314" width="18" height="8" fill="#004949"/>
<rect x="557" y="322" width="18" height="8" fill="#005738"/>
<rect x="557" y="330" width="18" height="8" fill="#00602d"/>
<rect x="557" y="338" width="18" height="8" fill="#00790e"/>
<rect x="557" y="346" width="18" height="8" fill="#008105"/>
<rect x="557" y="354" width="18" height="8" fill="#058600"/>
<rect x="557" y="362" width="18" height="8" fill="#3f9900"/>
<rect x="557" y="370" width="18" height="8" fill="#79ab00"/>
<rect x="557" y="378" width="18" height="8" fill="#bdc400"/>
<rect x="557" y="386" width="18" height="8" fill="#d07300"/>
<rect x="557" y="394" width="18" height="8" fill="#c82000"/>
<rect x="557" y="402" width="18" height="8" fill="#e60500"/>
<rect x="557" y="410" width="18" height="8" fill="#ff1a1a"/>
<rect x="557" y="418" width="18" height="8" fill="#ff6e6e"/>
<rect x="557" y="426" width="18" height="8" fill="#ffa1a1"/>
<rect x="557" y="434" width="18" height="16" fill="#ffbfbf"/>
<rect x="557" y="450" width="18" height="8" fill="#ffb2b2"/>
<rect x="557" y="458" width="18" height="8" fill="#ff9999"/>
<rect x="557" y="466" width="18" height="8" fill="#ff6e6e"/>
<rect x="557" y="474" width="18" height="8" fill="#ff4545"/>
<rect x="557" y="482" width="18" height="8" fill="#ff2626"/>
<rect x="557" y="490" width="18" height="8" fill="#ff0a0a"/>
<rect x="557" y="498" width="18" height="32" fill="#f70200"/>
<rect x="557" y="530" width="18" height="72" fill="#de0c00"/>
<rect x="557" y="602" width="18" height="8" fill="#ea0400"/>
<rect x="557" y="610" width="18" height="8" fill="#e60500"/>
<rect x="557" y="618" width="18" height="8" fill="#e20800"/>
<rect x="557" y="626" width="18" height="8" fill="#de0c00"/>
<rect x="557" y="634" width="18" height="8" fill="#d31600"/>
<rect x="557" y="642" width="18" height="8" fill="#c84700"/>
<rect x="557" y="650" width="18" height="8" fill="#d38b00"/>
<rect x="557" y="658" width="18" height="8" fill="#b2c000"/>
<rect x="557" y="666" width="18" height="8" fill="#62a300"/>
<rect x="557" y="674" width="18" height="8" fill="#158c00"/>
<rect x="557" y="682" width="18" height="8" fill="#007c0b"/>
<rect x="557" y="690" width="18" height="8" fill="#006824"/>
<rect x="557" y="698" width="18" height="8" fill="#005c32"/>
<rect x="557" y="706" width="18" height="8" fill="#004d44"/>
<rect x="557" y="714" width="18" height="8" fill="#00444f"/>
<rect x="557" y="722" width="18" height="8" fill="#003b5a"/>
<rect x="557" y="730" width="18" height="8" fill="#003a5b"/>
<rect x="557" y="738" width="18" height="8" fill="#00395c"/>
<rect x="557" y="746" width="18" height="8" fill="#00385d"/>
<rect x="557" y="754" width="18" height="8" fill="#00375e"/>
<rect x="557" y="762" width="18" height="8" fill="#003660"/>
<rect x="557" y="770" width="18" height="8" fill="#003561"/>
<rect x="557" y="778" width="18" height="8" fill="#003362"/>
<rect x="557" y="786" width="18" height="8" fill="#003263"/>
<rect x="557" y="794" width="18" height="8" fill="#003064"/>
<rect x="557" y="802" width="18" height="16" fill="#0d0010"/>
<rect x="575" y="170" width="18" height="96" fill="#030004"/>
<rect x="575" y="266" width="18" height="8" fill="#110082"/>
<rect x="575" y="274" width="18" height="8" fill="#0a0086"/>
<rect x="575" y="282" width="18" height="8" fill="#04008a"/>
<rect x="575" y="290" width="18" height="8" fill="#03008a"/>
<rect x="575" y="298" width="18" height="8" fill="#02008b"/>
<rect x="575" y="306" width="18" height="8" fill="#000787"/>
<rect x="575" y="314" width="18" height="8" fill="#00127e"/>
<rect x="575" y="322" width="18" height="8" fill="#001d75"/>
<rect x="575" y="330" width="18" height="8" fill="#00286c"/>
<rect x="575" y="338" width="18" height="8" fill="#003363"/>
<rect x="575" y="346" width="18" height="8" fill="#003d58"/>
<rect x="575" y="354" width="18" height="8" fill="#004c45"/>
<rect x="575" y="362" width="18" height="8" fill="#005c32"/>
<rect x="575" y="370" width="18" height="8" fill="#006b20"/>
<rect x="575" y="378" width="18" height="8" fill="#00790e"/>
<rect x="575" y="386" width="18" height="8" fill="#3f9900"/>
<rect x="575" y="394" width="18" height="8" fill="#79ab00"/>
<rect x="575" y="402" width="18" height="8" fill="#bdc400"/>
<rect x="575" y="410" width="18" height="8" fill="#d27d00"/>
<rect x="575" y="418" width="18" height="8" fill="#c82e00"/>
<rect x="575" y="426" width="18" height="8" fill="#d71200"/>
<rect x="575" y="434" width="18" height="8" fill="#e20800"/>
<rect x="575" y="442" width="18" height="8" fill="#e40700"/>
<rect x="575" y="450" width="18" height="8" fill="#e60500"/>
<rect x="575" y="458" width="18" height="8" fill="#e70500"/>
<rect x="575" y="466" width="18" height="24" fill="#e80500"/>
<rect x="575" y="490" width="18" height="8" fill="#e70500"/>
<rect x="575" y="498" width="18" height="8" fill="#e60500"/>
<rect x="575" y="506" width="18" height="8" fill="#e50500"/>
<rect x="575" y="514" width="18" height="8" fill="#e50600"/>
<rect x="575" y="522" width="18" height="8" fill="#e40600"/>
<rect x="575" y="530" width="18" height="8" fill="#c82000"/>
<rect x="575" y="538" width="18" height="8" fill="#c82100"/>
<rect x="575" y="546" width="18" height="8" fill="#c82200"/>
<rect x="575" y="554" width="18" height="8" fill="#c82300"/>
<rect x="575" y="562" width="18" height="16" fill="#c82400"/>
<rect x="575" y="578" width="18" height="8" fill="#c82500"/>
<rect x="575" y="586" width="18" height="8" fill="#c82600"/>
<rect x="575" y="594" width="18" height="8" fill="#c82700"/>
<rect x="575" y="602" width="18" height="40" fill="#c82000"/>
<rect x="575" y="642" width="18" height="8" fill="#c84b00"/>
<rect x="575" y="650" width="18" height="8" fill="#d27d00"/>
<rect x="575" y="658" width="18" height="8" fill="#bdc400"/>
<rect x="575" y="666" width="18" height="8" fill="#75a900"/>
<rect x="575" y="674" width="18" height="8" fill="#289100"/>
<rect x="575" y="682" width="18" height="8" fill="#007f07"/>
<rect x="575" y="690" width="18" height="8" fill="#007217"/>
<rect x="575" y="698" width="18" height="8" fill="#006329"/>
<rect x="575" y="706" width="18" height="8" fill="#005c32"/>
<rect x="575" y="714" width="18" height="8" fill="#005a34"/>
<rect x="575" y="722" width="18" height="8" fill="#005936"/>
<rect x="575" y="730" width="18" height="8" fill="#005738"/>
<rect x="575" y="738" width="18" height="8" fill="#005639"/>
<rect x="575" y="746" width="18" height="8" fill="#00543b"/>
<rect x="575" y="754" width="18" height="8" fill="#00533d"/>
<rect x="575" y="762" width="18" height="8" fill="#00513f"/>
<rect x="575" y="770" width="18" height="8" fill="#005041"/>
<rect x="575" y="778" width="18" height="8" fill="#004f42"/>
<rect x="575" y="786" width="18" height="8" fill="#004d44"/>
<rect x="575" y="794" width="18" height="8" fill="#004c46"/>
<rect x="575" y="802" width="18" height="8" fill="#004a48"/>
<rect x="575" y="810" width="18" height="8" fill="#004949"/>
<rect x="593" y="170" width="18" height="112" fill="#030004"/>
<rect x="593" y="282" width="18" height="8" fill="#230073"/>
<rect x="593" y="290" width="18" height="8" fill="#1e0078"/>
<rect x="593" y="298" width="18" height="8" fill="#19007d"/>
<rect x="593" y="306" width="18" height="8" fill="#0f0083"/>
<rect x="593" y="314" width="18" height="8" fill="#060088"/>
<rect x="593" y="322" width="18" height="8" fill="#050089"/>
<rect x="593" y="330" width="18" height="8" fill="#040089"/>
<rect x="593" y="338" width="18" height="8" fill="#04008a"/>
<rect x="593" y="346" width="18" height="16" fill="#03008a"/>
<rect x="593" y="362" width="18" height="8" fill="#00028a"/>
<rect x="593" y="370" width="18" height="8" fill="#000b83"/>
<rect x="593" y="378" width="18" height="8" fill="#000f7f"/>
<rect x="593" y="386" width="18" height="8" fill="#00167a"/>
<rect x="593" y="394" width="18" height="8" fill="#00375f"/>
<rect x="593" y="402" width="18" height="8" fill="#00543b"/>
<rect x="593" y="410" width="18" height="8" fill="#00790e"/>
<rect x="593" y="418" width="18" height="8" fill="#339500"/>
<rect x="593" y="426" width="18" height="8" fill="#7ead00"/>
<rect x="593" y="434" width="18" height="8" fill="#b8c200"/>
<rect x="593" y="442" width="18" height="8" fill="#d29200"/>
<rect x="593" y="450" width="18" height="8" fill="#ce6900"/>
<rect x="593" y="458" width="18" height="8" fill="#c95100"/>
<rect x="593" y="466" width="18" height="8" fill="#c95200"/>
<rect x="593" y="474" width="18" height="8" fill="#ca5400"/>
<rect x="593" y="482" width="18" height="8" fill="#ca5500"/>
<rect x="593" y="490" width="18" height="8" fill="#ce6900"/>
<rect x="593" y="498" width="18" height="8" fill="#d07100"/>
<rect x="593" y="506" width="18" height="8" fill="#d17900"/>
<rect x="593" y="514" width="18" height="8" fill="#d27d00"/>
<rect x="593" y="522" width="18" height="8" fill="#d38100"/>
<rect x="593" y="530" width="18" height="56" fill="#d09d00"/>
<rect x="593" y="586" width="18" height="16" fill="#d48700"/>
<rect x="593" y="602" width="18" height="48" fill="#ca5500"/>
<rect x="593" y="650" width="18" height="8" fill="#ce6900"/>
<rect x="593" y="658" width="18" height="8" fill="#d29200"/>
<rect x="593" y="666" width="18" height="8" fill="#a6bc00"/>
<rect x="593" y="674" width="18" height="8" fill="#75a900"/>
<rect x="593" y="682" width="18" height="8" fill="#3f9900"/>
<rect x="593" y="690" width="18" height="8" fill="#108a00"/>
<rect x="593" y="698" width="18" height="8" fill="#008105"/>
<rect x="593" y="706" width="18" height="32" fill="#007612"/>
<rect x="593" y="738" width="18" height="8" fill="#006f1b"/>
<rect x="593" y="746" width="18" height="8" fill="#006e1c"/>
<rect x="593" y="754" width="18" height="8" fill="#006d1d"/>
<rect x="593" y="762" width="18" height="8" fill="#006c1e"/>
<rect x="593" y="770" width="18" height="8" fill="#006c1f"/>
<rect x="593" y="778" width="18" height="8" fill="#006b20"/>
<rect x="593" y="786" width="18" height="8" fill="#006a21"/>
<rect x="593" y="794" width="18" height="8" fill="#006922"/>
<rect x="593" y="802" width="18" height="8" fill="#006823"/>
<rect x="593" y="810" width="18" height="8" fill="#006824"/>
<rect x="611" y="170" width="18" height="120" fill="#030004"/>
<rect x="611" y="290" width="18" height="16" fill="#330063"/>
<rect x="611" y="306" width="18" height="16" fill="#320064"/>
<rect x="611" y="322" width="18" height="8" fill="#300066"/>
<rect x="611" y="330" width="18" height="8" fill="#2e0068"/>
<rect x="611" y="338" width="18" height="8" fill="#2d0069"/>
<rect x="611" y="346" width="18" height="8" fill="#2b006b"/>
<rect x="611" y="354" width="18" height="8" fill="#2a006c"/>
<rect x="611" y="362" width="18" height="8" fill="#29006d"/>
<rect x="611" y="370" width="18" height="8" fill="#28006e"/>
<rect x="611" y="378" width="18" height="8" fill="#27006f"/>
<rect x="611" y="386" width="18" height="8" fill="#1c007a"/>
<rect x="611" y="394" width="18" height="8" fill="#1b007b"/>
<rect x="611" y="402" width="18" height="8" fill="#1a007c"/>
<rect x="611" y="410" width="18" height="8" fill="#060088"/>
<rect x="611" y="418" width="18" height="8" fill="#03008a"/>
<rect x="611" y="426" width="18" height="8" fill="#00167a"/>
<rect x="611" y="434" width="18" height="8" fill="#003e56"/>
<rect x="611" y="442" width="18" height="8" fill="#00790e"/>
<rect x="611" y="450" width="18" height="8" fill="#339500"/>
<rect x="611" y="458" width="18" height="8" fill="#6ea700"/>
<rect x="611" y="466" width="18" height="8" fill="#8db300"/>
<rect x="611" y="474" width="18" height="48" fill="#a9bc00"/>
<rect x="611" y="522" width="18" height="8" fill="#8db300"/>
<rect x="611" y="530" width="18" height="8" fill="#8cb200"/>
<rect x="611" y="538" width="18" height="8" fill="#8ab100"/>
<rect x="611" y="546" width="18" height="8" fill="#89b100"/>
<rect x="611" y="554" width="18" height="8" fill="#88b000"/>
<rect x="611" y="562" width="18" height="8" fill="#86b000"/>
<rect x="611" y="570" width="18" height="8" fill="#84af00"/>
<rect x="611" y="578" width="18" height="8" fill="#a6bc00"/>
<rect x="611" y="586" width="18" height="8" fill="#aabd00"/>
<rect x="611" y="594" width="18" height="8" fill="#adbe00"/>
<rect x="611" y="602" width="18" height="8" fill="#bdc400"/>
<rect x="611" y="610" width="18" height="8" fill="#cdac00"/>
<rect x="611" y="618" width="18" height="8" fill="#d29200"/>
<rect x="611" y="626" width="18" height="8" fill="#d38a00"/>
<rect x="611" y="634" width="18" height="32" fill="#d38300"/>
<rect x="611" y="666" width="18" height="8" fill="#cea800"/>
<rect x="611" y="674" width="18" height="8" fill="#b8c200"/>
<rect x="611" y="682" width="18" height="8" fill="#84af00"/>
<rect x="611" y="690" width="18" height="8" fill="#57a000"/>
<rect x="611" y="698" width="18" height="8" fill="#289100"/>
<rect x="611" y="706" width="18" height="8" fill="#058600"/>
<rect x="611" y="714" width="18" height="32" fill="#007c0b"/>
<rect x="611" y="746" width="18" height="8" fill="#007217"/>
<rect x="611" y="754" width="18" height="8" fill="#007118"/>
<rect x="611" y="762" width="18" height="8" fill="#00701a"/>
<rect x="611" y="770" width="18" height="8" fill="#006f1b"/>
<rect x="611" y="778" width="18" height="8" fill="#006e1c"/>
<rect x="611" y="786" width="18" height="8" fill="#006d1d"/>
<rect x="611" y="794" width="18" height="8" fill="#006c1e"/>
<rect x="611" y="802" width="18" height="8" fill="#006b1f"/>
<rect x="611" y="810" width="18" height="8" fill="#006b20"/>
<rect x="629" y="170" width="18" height="128" fill="#030004"/>
<rect x="629" y="298" width="18" height="8" fill="#370042"/>
<rect x="629" y="306" width="18" height="8" fill="#380043"/>
<rect x="629" y="314" width="18" height="8" fill="#390044"/>
<rect x="629" y="322" width="18" height="8" fill="#3a0045"/>
<rect x="629" y="330" width="18" height="8" fill="#3a0046"/>
<rect x="629" y="338" width="18" height="8" fill="#3b0047"/>
<rect x="629" y="346" width="18" height="8" fill="#3c0048"/>
<rect x="629" y="354" width="18" height="8" fill="#3d004a"/>
<rect x="629" y="362" width="18" height="8" fill="#3e004b"/>
<rect x="629" y="370" width="18" height="8" fill="#3f004c"/>
<rect x="629" y="378" width="18" height="8" fill="#40004d"/>
<rect x="629" y="386" width="18" height="8" fill="#450053"/>
<rect x="629" y="394" width="18" height="8" fill="#3f005a"/>
<rect x="629" y="402" width="18" height="8" fill="#2e0068"/>
<rect x="629" y="410" width="18" height="8" fill="#2b006b"/>
<rect x="629" y="418" width="18" height="8" fill="#28006e"/>
<rect x="629" y="426" width="18" height="8" fill="#1c007a"/>
<rect x="629" y="434" width="18" height="8" fill="#19007d"/>
<rect x="629" y="442" width="18" height="8" fill="#04008a"/>
<rect x="629" y="450" width="18" height="8" fill="#002c68"/>
<rect x="629" y="458" width="18" height="8" fill="#005c32"/>
<rect x="629" y="466" width="18" height="8" fill="#008105"/>
<rect x="629" y="474" width="18" height="8" fill="#289100"/>
<rect x="629" y="482" width="18" height="8" fill="#57a000"/>
<rect x="629" y="490" width="18" height="8" fill="#62a300"/>
<rect x="629" y="498" width="18" height="8" fill="#7ead00"/>
<rect x="629" y="506" width="18" height="8" fill="#7cac00"/>
<rect x="629" y="514" width="18" height="8" fill="#7bac00"/>
<rect x="629" y="522" width="18" height="8" fill="#7aab00"/>
<rect x="629" y="530" width="18" height="8" fill="#79ab00"/>
<rect x="629" y="538" width="18" height="8" fill="#77aa00"/>
<rect x="629" y="546" width="18" height="8" fill="#76aa00"/>
<rect x="629" y="554" width="18" height="8" fill="#75a900"/>
<rect x="629" y="562" width="18" height="8" fill="#73a900"/>
<rect x="629" y="570" width="18" height="8" fill="#71a800"/>
<rect x="629" y="578" width="18" height="8" fill="#70a800"/>
<rect x="629" y="586" width="18" height="8" fill="#6ea700"/>
<rect x="629" y="594" width="18" height="8" fill="#94b500"/>
<rect x="629" y="602" width="18" height="8" fill="#9bb800"/>
<rect x="629" y="610" width="18" height="8" fill="#bdc400"/>
<rect x="629" y="618" width="18" height="8" fill="#ccb200"/>
<rect x="629" y="626" width="18" height="8" fill="#d29200"/>
<rect x="629" y="634" width="18" height="8" fill="#d27d00"/>
<rect x="629" y="642" width="18" height="32" fill="#ce6900"/>
<rect x="629" y="674" width="18" height="8" fill="#d27d00"/>
<rect x="629" y="682" width="18" height="8" fill="#d29200"/>
<rect x="629" y="690" width="18" height="8" fill="#c1c600"/>
<rect x="629" y="698" width="18" height="8" fill="#84af00"/>
<rect x="629" y="706" width="18" height="8" fill="#4b9c00"/>
<rect x="629" y="714" width="18" height="8" fill="#1c8e00"/>
<rect x="629" y="722" width="18" height="8" fill="#008105"/>
<rect x="629" y="730" width="18" height="8" fill="#007612"/>
<rect x="629" y="738" width="18" height="8" fill="#006f1b"/>
<rect x="629" y="746" width="18" height="8" fill="#006e1c"/>
<rect x="629" y="754" width="18" height="8" fill="#006c1e"/>
<rect x="629" y="762" width="18" height="8" fill="#006b20"/>
<rect x="629" y="770" width="18" height="8" fill="#006a21"/>
<rect x="629" y="778" width="18" height="8" fill="#006823"/>
<rect x="629" y="786" width="18" height="8" fill="#006724"/>
<rect x="629" y="794" width="18" height="8" fill="#006626"/>
<rect x="629" y="802" width="18" height="8" fill="#006428"/>
<rect x="629" y="810" width="18" height="8" fill="#006329"/>
<rect x="647" y="170" width="18" height="128" fill="#030004"/>
<rect x="647" y="298" width="18" height="8" fill="#280030"/>
<rect x="647" y="306" width="18" height="8" fill="#290031"/>
<rect x="647" y="314" width="18" height="8" fill="#2a0032"/>
<rect x="647" y="322" width="18" height="8" fill="#2b0034"/>
<rect x="647" y="330" width="18" height="8" fill="#2c0035"/>
<rect x="647" y="338" width="18" height="8" fill="#2d0036"/>
<rect x="647" y="346" width="18" height="8" fill="#2e0037"/>
<rect x="647" y="354" width="18" height="8" fill="#2f0038"/>
<rect x="647" y="362" width="18" height="8" fill="#300039"/>
<rect x="647" y="370" width="18" height="8" fill="#31003a"/>
<rect x="647" y="378" width="18" height="8" fill="#32003c"/>
<rect x="647" y="386" width="18" height="8" fill="#360041"/>
<rect x="647" y="394" width="18" height="8" fill="#380043"/>
<rect x="647" y="402" width="18" height="8" fill="#3a0046"/>
<rect x="647" y="410" width="18" height="8" fill="#330063"/>
<rect x="647" y="418" width="18" height="8" fill="#2f0067"/>
<rect x="647" y="426" width="18" height="8" fill="#2b006b"/>
<rect x="647" y="434" width="18" height="8" fill="#27006f"/>
<rect x="647" y="442" width="18" height="8" fill="#19007d"/>
<rect x="647" y="450" width="18" height="8" fill="#04008a"/>
<rect x="647" y="458" width="18" height="8" fill="#002171"/>
<rect x="647" y="466" width="18" height="8" fill="#005c32"/>
<rect x="647" y="474" width="18" height="8" fill="#007c0b"/>
<rect x="647" y="482" width="18" height="8" fill="#178c00"/>
<rect x="647" y="490" width="18" height="8" fill="#239000"/>
<rect x="647" y="498" width="18" height="8" fill="#4b9c00"/>
<rect x="647" y="506" width="18" height="8" fill="#4d9d00"/>
<rect x="647" y="514" width="18" height="8" fill="#509e00"/>
<rect x="647" y="522" width="18" height="8" fill="#529e00"/>
<rect x="647" y="530" width="18" height="8" fill="#549f00"/>
<rect x="647" y="538" width="18" height="8" fill="#57a000"/>
<rect x="647" y="546" width="18" height="8" fill="#339500"/>
<rect x="647" y="554" width="18" height="8" fill="#359600"/>
<rect x="647" y="562" width="18" height="8" fill="#379600"/>
<rect x="647" y="570" width="18" height="8" fill="#399700"/>
<rect x="647" y="578" width="18" height="8" fill="#3b9700"/>
<rect x="647" y="586" width="18" height="8" fill="#3d9800"/>
<rect x="647" y="594" width="18" height="8" fill="#3f9900"/>
<rect x="647" y="602" width="18" height="8" fill="#57a000"/>
<rect x="647" y="610" width="18" height="8" fill="#7ead00"/>
<rect x="647" y="618" width="18" height="8" fill="#9bb800"/>
<rect x="647" y="626" width="18" height="8" fill="#bdc400"/>
<rect x="647" y="634" width="18" height="8" fill="#cea800"/>
<rect x="647" y="642" width="18" height="8" fill="#d38b00"/>
<rect x="647" y="650" width="18" height="8" fill="#d07300"/>
<rect x="647" y="658" width="18" height="24" fill="#cc5f00"/>
<rect x="647" y="682" width="18" height="8" fill="#d07300"/>
<rect x="647" y="690" width="18" height="8" fill="#d29200"/>
<rect x="647" y="698" width="18" height="8" fill="#cbb900"/>
<rect x="647" y="706" width="18" height="8" fill="#9bb800"/>
<rect x="647" y="714" width="18" height="8" fill="#6ea700"/>
<rect x="647" y="722" width="18" height="8" fill="#289100"/>
<rect x="647" y="730" width="18" height="8" fill="#058600"/>
<rect x="647" y="738" width="18" height="8" fill="#007612"/>
<rect x="647" y="746" width="18" height="8" fill="#006b20"/>
<rect x="647" y="754" width="18" height="8" fill="#006922"/>
<rect x="647" y="762" width="18" height="8" fill="#006824"/>
<rect x="647" y="770" width="18" height="8" fill="#006626"/>
<rect x="647" y="778" width="18" height="8" fill="#006527"/>
<rect x="647" y="786" width="18" height="8" fill="#006329"/>
<rect x="647" y="794" width="18" height="8" fill="#00622b"/>
<rect x="647" y="802" width="18" height="8" fill="#00602d"/>
<rect x="647" y="810" width="18" height="8" fill="#005f2f"/>
<rect x="665" y="170" width="18" height="120" fill="#030004"/>
<rect x="665" y="290" width="18" height="8" fill="#210027"/>
<rect x="665" y="298" width="18" height="8" fill="#220029"/>
<rect x="665" y="306" width="18" height="8" fill="#23002a"/>
<rect x="665" y="314" width="18" height="8" fill="#24002b"/>
<rect x="665" y="322" width="18" height="8" fill="#25002c"/>
<rect x="665" y="330" width="18" height="8" fill="#26002d"/>
<rect x="665" y="338" width="18" height="8" fill="#27002f"/>
<rect x="665" y="346" width="18" height="8" fill="#280030"/>
<rect x="665" y="354" width="18" height="8" fill="#290031"/>
<rect x="665" y="362" width="18" height="8" fill="#2a0032"/>
<rect x="665" y="370" width="18" height="8" fill="#2b0033"/>
<rect x="665" y="378" width="18" height="8" fill="#2c0034"/>
<rect x="665" y="386" width="18" height="8" fill="#33003d"/>
<rect x="665" y="394" width="18" height="8" fill="#370042"/>
<rect x="665" y="402" width="18" height="8" fill="#3a0046"/>
<rect x="665" y="410" width="18" height="8" fill="#310065"/>
<rect x="665" y="418" width="18" height="8" fill="#2e0068"/>
<rect x="665" y="426" width="18" height="8" fill="#2a006c"/>
<rect x="665" y="434" width="18" height="8" fill="#27006f"/>
<rect x="665" y="442" width="18" height="8" fill="#19007d"/>
<rect x="665" y="450" width="18" height="8" fill="#070088"/>
<rect x="665" y="458" width="18" height="8" fill="#00167a"/>
<rect x="665" y="466" width="18" height="8" fill="#00543b"/>
<rect x="665" y="474" width="18" height="8" fill="#007612"/>
<rect x="665" y="482" width="18" height="8" fill="#108a00"/>
<rect x="665" y="490" width="18" height="48" fill="#339500"/>
<rect x="665" y="538" width="18" height="8" fill="#1c8e00"/>
<rect x="665" y="546" width="18" height="8" fill="#1e8e00"/>
<rect x="665" y="554" width="18" height="8" fill="#208f00"/>
<rect x="665" y="562" width="18" height="8" fill="#218f00"/>
<rect x="665" y="570" width="18" height="8" fill="#239000"/>
<rect x="665" y="578" width="18" height="8" fill="#299200"/>
<rect x="665" y="586" width="18" height="8" fill="#2e9300"/>
<rect x="665" y="594" width="18" height="8" fill="#339500"/>
<rect x="665" y="602" width="18" height="8" fill="#57a000"/>
<rect x="665" y="610" width="18" height="8" fill="#6ea700"/>
<rect x="665" y="618" width="18" height="8" fill="#94b500"/>
<rect x="665" y="626" width="18" height="8" fill="#bdc400"/>
<rect x="665" y="634" width="18" height="8" fill="#cdac00"/>
<rect x="665" y="642" width="18" height="8" fill="#d29200"/>
<rect x="665" y="650" width="18" height="8" fill="#d27d00"/>
<rect x="665" y="658" width="18" height="24" fill="#cf6f00"/>
<rect x="665" y="682" width="18" height="8" fill="#d48700"/>
<rect x="665" y="690" width="18" height="8" fill="#d19800"/>
<rect x="665" y="698" width="18" height="8" fill="#bdc400"/>
<rect x="665" y="706" width="18" height="8" fill="#84af00"/>
<rect x="665" y="714" width="18" height="8" fill="#4b9c00"/>
<rect x="665" y="722" width="18" height="8" fill="#108a00"/>
<rect x="665" y="730" width="18" height="8" fill="#007c0b"/>
<rect x="665" y="738" width="18" height="8" fill="#006824"/>
<rect x="665" y="746" width="18" height="8" fill="#005738"/>
<rect x="665" y="754" width="18" height="8" fill="#005639"/>
<rect x="665" y="762" width="18" height="8" fill="#00543b"/>
<rect x="665" y="770" width="18" height="8" fill="#004351"/>
<rect x="665" y="778" width="18" height="8" fill="#004152"/>
<rect x="665" y="786" width="18" height="8" fill="#004054"/>
<rect x="665" y="794" width="18" height="8" fill="#003064"/>
<rect x="665" y="802" width="18" height="8" fill="#002e66"/>
<rect x="665" y="810" width="18" height="8" fill="#002c68"/>
<rect x="683" y="170" width="18" height="112" fill="#030004"/>
<rect x="683" y="282" width="18" height="8" fill="#210027"/>
<rect x="683" y="290" width="18" height="8" fill="#210028"/>
<rect x="683" y="298" width="18" height="8" fill="#220029"/>
<rect x="683" y="306" width="18" height="16" fill="#23002a"/>
<rect x="683" y="322" width="18" height="8" fill="#24002b"/>
<rect x="683" y="330" width="18" height="8" fill="#24002c"/>
<rect x="683" y="338" width="18" height="8" fill="#25002c"/>
<rect x="683" y="346" width="18" height="8" fill="#26002d"/>
<rect x="683" y="354" width="18" height="8" fill="#26002e"/>
<rect x="683" y="362" width="18" height="16" fill="#27002f"/>
<rect x="683" y="378" width="18" height="8" fill="#280030"/>
<rect x="683" y="386" width="18" height="8" fill="#32003c"/>
<rect x="683" y="394" width="18" height="8" fill="#350040"/>
<rect x="683" y="402" width="18" height="8" fill="#390044"/>
<rect x="683" y="410" width="18" height="8" fill="#330063"/>
<rect x="683" y="418" width="18" height="8" fill="#320064"/>
<rect x="683" y="426" width="18" height="8" fill="#310065"/>
<rect x="683" y="434" width="18" height="8" fill="#230073"/>
<rect x="683" y="442" width="18" height="8" fill="#200076"/>
<rect x="683" y="450" width="18" height="8" fill="#0c0084"/>
<rect x="683" y="458" width="18" height="8" fill="#002c68"/>
<rect x="683" y="466" width="18" height="8" fill="#00543b"/>
<rect x="683" y="474" width="18" height="8" fill="#006626"/>
<rect x="683" y="482" width="18" height="8" fill="#006b20"/>
<rect x="683" y="490" width="18" height="64" fill="#007c0b"/>
<rect x="683" y="554" width="18" height="8" fill="#008500"/>
<rect x="683" y="562" width="18" height="8" fill="#028600"/>
<rect x="683" y="570" width="18" height="8" fill="#058600"/>
<rect x="683" y="578" width="18" height="8" fill="#289100"/>
<rect x="683" y="586" width="18" height="8" fill="#2e9300"/>
<rect x="683" y="594" width="18" height="8" fill="#339500"/>
<rect x="683" y="602" width="18" height="8" fill="#6ea700"/>
<rect x="683" y="610" width="18" height="8" fill="#9bb800"/>
<rect x="683" y="618" width="18" height="8" fill="#bdc400"/>
<rect x="683" y="626" width="18" height="8" fill="#cbb700"/>
<rect x="683" y="634" width="18" height="16" fill="#cfa300"/>
<rect x="683" y="650" width="18" height="8" fill="#cdac00"/>
<rect x="683" y="658" width="18" height="8" fill="#cabd00"/>
<rect x="683" y="666" width="18" height="8" fill="#bdc400"/>
<rect x="683" y="674" width="18" height="8" fill="#8db300"/>
<rect x="683" y="682" width="18" height="8" fill="#4b9c00"/>
<rect x="683" y="690" width="18" height="8" fill="#108a00"/>
<rect x="683" y="698" width="18" height="8" fill="#007612"/>
<rect x="683" y="706" width="18" height="8" fill="#005c32"/>
<rect x="683" y="714" width="18" height="8" fill="#004351"/>
<rect x="683" y="722" width="18" height="8" fill="#002a6a"/>
<rect x="683" y="730" width="18" height="8" fill="#00167a"/>
<rect x="683" y="738" width="18" height="8" fill="#00157b"/>
<rect x="683" y="746" width="18" height="8" fill="#00137c"/>
<rect x="683" y="754" width="18" height="8" fill="#00127e"/>
<rect x="683" y="762" width="18" height="8" fill="#00008c"/>
<rect x="683" y="770" width="18" height="8" fill="#01008c"/>
<rect x="683" y="778" width="18" height="8" fill="#01008b"/>
<rect x="683" y="786" width="18" height="8" fill="#02008b"/>
<rect x="683" y="794" width="18" height="16" fill="#03008a"/>
<rect x="683" y="810" width="18" height="8" fill="#04008a"/>
<rect x="701" y="170" width="18" height="96" fill="#030004"/>
<rect x="701" y="266" width="18" height="32" fill="#1f0025"/>
<rect x="701" y="298" width="18" height="8" fill="#1f0026"/>
<rect x="701" y="306" width="18" height="32" fill="#200026"/>
<rect x="701" y="338" width="18" height="16" fill="#200027"/>
<rect x="701" y="354" width="18" height="16" fill="#210027"/>
<rect x="701" y="370" width="18" height="8" fill="#370042"/>
<rect x="701" y="378" width="18" height="8" fill="#3a0046"/>
<rect x="701" y="386" width="18" height="8" fill="#440051"/>
<rect x="701" y="394" width="18" height="8" fill="#2a006c"/>
<rect x="701" y="402" width="18" height="8" fill="#1c007a"/>
<rect x="701" y="410" width="18" height="8" fill="#1a007c"/>
<rect x="701" y="418" width="18" height="8" fill="#070088"/>
<rect x="701" y="426" width="18" height="8" fill="#04008a"/>
<rect x="701" y="434" width="18" height="8" fill="#002171"/>
<rect x="701" y="442" width="18" height="8" fill="#003e56"/>
<rect x="701" y="450" width="18" height="72" fill="#004d44"/>
<rect x="701" y="522" width="18" height="8" fill="#005c32"/>
<rect x="701" y="530" width="18" height="8" fill="#00602d"/>
<rect x="701" y="538" width="18" height="8" fill="#006b20"/>
<rect x="701" y="546" width="18" height="8" fill="#008105"/>
<rect x="701" y="554" width="18" height="8" fill="#1c8e00"/>
<rect x="701" y="562" width="18" height="8" fill="#4b9c00"/>
<rect x="701" y="570" width="18" height="8" fill="#519e00"/>
<rect x="701" y="578" width="18" height="8" fill="#57a000"/>
<rect x="701" y="586" width="18" height="8" fill="#5ca200"/>
<rect x="701" y="594" width="18" height="24" fill="#62a300"/>
<rect x="701" y="618" width="18" height="8" fill="#3f9900"/>
<rect x="701" y="626" width="18" height="8" fill="#289100"/>
<rect x="701" y="634" width="18" height="8" fill="#058600"/>
<rect x="701" y="642" width="18" height="8" fill="#007217"/>
<rect x="701" y="650" width="18" height="8" fill="#004d44"/>
<rect x="701" y="658" width="18" height="8" fill="#003064"/>
<rect x="701" y="666" width="18" height="8" fill="#00167a"/>
<rect x="701" y="674" width="18" height="16" fill="#03008a"/>
<rect x="701" y="690" width="18" height="16" fill="#04008a"/>
<rect x="701" y="706" width="18" height="16" fill="#110082"/>
<rect x="701" y="722" width="18" height="16" fill="#120081"/>
<rect x="701" y="738" width="18" height="8" fill="#130081"/>
<rect x="701" y="746" width="18" height="8" fill="#130080"/>
<rect x="701" y="754" width="18" height="8" fill="#200076"/>
<rect x="701" y="762" width="18" height="8" fill="#210075"/>
<rect x="701" y="770" width="18" height="8" fill="#230073"/>
<rect x="701" y="778" width="18" height="8" fill="#240072"/>
<rect x="701" y="786" width="18" height="8" fill="#260070"/>
<rect x="701" y="794" width="18" height="8" fill="#27006f"/>
<rect x="701" y="802" width="18" height="8" fill="#29006d"/>
<rect x="701" y="810" width="18" height="8" fill="#2a006c"/>
<rect x="719" y="170" width="18" height="64" fill="#030004"/>
<rect x="719" y="234" width="18" height="8" fill="#100013"/>
<rect x="719" y="242" width="18" height="8" fill="#110014"/>
<rect x="719" y="250" width="18" height="8" fill="#120015"/>
<rect x="719" y="258" width="18" height="8" fill="#120016"/>
<rect x="719" y="266" width="18" height="8" fill="#130017"/>
<rect x="719" y="274" width="18" height="16" fill="#140018"/>
<rect x="719" y="290" width="18" height="8" fill="#16001b"/>
<rect x="719" y="298" width="18" height="8" fill="#18001d"/>
<rect x="719" y="306" width="18" height="8" fill="#1a001f"/>
<rect x="719" y="314" width="18" height="8" fill="#1c0021"/>
<rect x="719" y="322" width="18" height="8" fill="#210027"/>
<rect x="719" y="330" width="18" height="8" fill="#26002e"/>
<rect x="719" y="338" width="18" height="8" fill="#2f0039"/>
<rect x="719" y="346" width="18" height="8" fill="#3a0046"/>
<rect x="719" y="354" width="18" height="8" fill="#430050"/>
<rect x="719" y="362" width="18" height="8" fill="#360061"/>
<rect x="719" y="370" width="18" height="8" fill="#2e0068"/>
<rect x="719" y="378" width="18" height="8" fill="#200076"/>
<rect x="719" y="386" width="18" height="8" fill="#0c0084"/>
<rect x="719" y="394" width="18" height="8" fill="#0b0085"/>
<rect x="719" y="402" width="18" height="8" fill="#0a0086"/>
<rect x="719" y="410" width="18" height="8" fill="#000488"/>
<rect x="719" y="418" width="18" height="8" fill="#000886"/>
<rect x="719" y="426" width="18" height="8" fill="#000b83"/>
<rect x="719" y="434" width="18" height="8" fill="#001a76"/>
<rect x="719" y="442" width="18" height="24" fill="#001b76"/>
<rect x="719" y="466" width="18" height="24" fill="#001c75"/>
<rect x="719" y="490" width="18" height="8" fill="#001d75"/>
<rect x="719" y="498" width="18" height="8" fill="#002a6a"/>
<rect x="719" y="506" width="18" height="8" fill="#002a69"/>
<rect x="719" y="514" width="18" height="8" fill="#002b69"/>
<rect x="719" y="522" width="18" height="16" fill="#002c68"/>
<rect x="719" y="538" width="18" height="8" fill="#002d67"/>
<rect x="719" y="546" width="18" height="8" fill="#002e67"/>
<rect x="719" y="554" width="18" height="8" fill="#002e66"/>
<rect x="719" y="562" width="18" height="8" fill="#002f65"/>
<rect x="719" y="570" width="18" height="8" fill="#003065"/>
<rect x="719" y="578" width="18" height="8" fill="#003064"/>
<rect x="719" y="586" width="18" height="8" fill="#00167a"/>
<rect x="719" y="594" width="18" height="8" fill="#04008a"/>
<rect x="719" y="602" width="18" height="8" fill="#0c0084"/>
<rect x="719" y="610" width="18" height="8" fill="#0e0084"/>
<rect x="719" y="618" width="18" height="8" fill="#200076"/>
<rect x="719" y="626" width="18" height="8" fill="#210075"/>
<rect x="719" y="634" width="18" height="8" fill="#220074"/>
<rect x="719" y="642" width="18" height="8" fill="#300066"/>
<rect x="719" y="650" width="18" height="8" fill="#310065"/>
<rect x="719" y="658" width="18" height="8" fill="#320064"/>
<rect x="719" y="666" width="18" height="8" fill="#330063"/>
<rect x="719" y="674" width="18" height="8" fill="#440051"/>
<rect x="719" y="682" width="18" height="8" fill="#430051"/>
<rect x="719" y="690" width="18" height="16" fill="#430050"/>
<rect x="719" y="706" width="18" height="16" fill="#42004f"/>
<rect x="719" y="722" width="18" height="8" fill="#370042"/>
<rect x="719" y="730" width="18" height="16" fill="#360041"/>
<rect x="719" y="746" width="18" height="16" fill="#350040"/>
<rect x="719" y="762" width="18" height="8" fill="#34003f"/>
<rect x="719" y="770" width="18" height="8" fill="#2c0034"/>
<rect x="719" y="778" width="18" height="8" fill="#2b0034"/>
<rect x="719" y="786" width="18" height="8" fill="#2b0033"/>
<rect x="719" y="794" width="18" height="8" fill="#2a0033"/>
<rect x="719" y="802" width="18" height="16" fill="#000000"/>
<rect x="737" y="170" width="18" height="40" fill="#030004"/>
<rect x="737" y="210" width="18" height="8" fill="#0d0010"/>
<rect x="737" y="218" width="18" height="8" fill="#0e0011"/>
<rect x="737" y="226" width="18" height="8" fill="#0f0013"/>
<rect x="737" y="234" width="18" height="8" fill="#110014"/>
<rect x="737" y="242" width="18" height="8" fill="#120015"/>
<rect x="737" y="250" width="18" height="8" fill="#130017"/>
<rect x="737" y="258" width="18" height="8" fill="#16001b"/>
<rect x="737" y="266" width="18" height="8" fill="#1a001f"/>
<rect x="737" y="274" width="18" height="8" fill="#1d0023"/>
<rect x="737" y="282" width="18" height="8" fill="#220028"/>
<rect x="737" y="290" width="18" height="8" fill="#26002e"/>
<rect x="737" y="298" width="18" height="8" fill="#2a0033"/>
<rect x="737" y="306" width="18" height="8" fill="#32003c"/>
<rect x="737" y="314" width="18" height="8" fill="#3a0046"/>
<rect x="737" y="322" width="18" height="8" fill="#42004f"/>
<rect x="737" y="330" width="18" height="8" fill="#39005e"/>
<rect x="737" y="338" width="18" height="8" fill="#2e0068"/>
<rect x="737" y="346" width="18" height="8" fill="#200076"/>
<rect x="737" y="354" width="18" height="8" fill="#16007e"/>
<rect x="737" y="362" width="18" height="8" fill="#0e0084"/>
<rect x="737" y="370" width="18" height="8" fill="#0c0084"/>
<rect x="737" y="378" width="18" height="8" fill="#0b0086"/>
<rect x="737" y="386" width="18" height="24" fill="#0b0085"/>
<rect x="737" y="410" width="18" height="40" fill="#0c0085"/>
<rect x="737" y="450" width="18" height="8" fill="#0c0084"/>
<rect x="737" y="458" width="18" height="8" fill="#1c007a"/>
<rect x="737" y="466" width="18" height="40" fill="#1d0079"/>
<rect x="737" y="506" width="18" height="16" fill="#1e0078"/>
<rect x="737" y="522" width="18" height="8" fill="#27006f"/>
<rect x="737" y="530" width="18" height="8" fill="#28006e"/>
<rect x="737" y="538" width="18" height="8" fill="#29006d"/>
<rect x="737" y="546" width="18" height="8" fill="#2a006c"/>
<rect x="737" y="554" width="18" height="8" fill="#3f005a"/>
<rect x="737" y="562" width="18" height="8" fill="#450053"/>
<rect x="737" y="570" width="18" height="8" fill="#42004f"/>
<rect x="737" y="578" width="18" height="8" fill="#3e004a"/>
<rect x="737" y="586" width="18" height="8" fill="#3a0046"/>
<rect x="737" y="594" width="18" height="8" fill="#370042"/>
<rect x="737" y="602" width="18" height="8" fill="#32003c"/>
<rect x="737" y="610" width="18" height="8" fill="#31003b"/>
<rect x="737" y="618" width="18" height="16" fill="#30003a"/>
<rect x="737" y="634" width="18" height="8" fill="#2f0039"/>
<rect x="737" y="642" width="18" height="8" fill="#26002e"/>
<rect x="737" y="650" width="18" height="16" fill="#26002d"/>
<rect x="737" y="666" width="18" height="8" fill="#25002d"/>
<rect x="737" y="674" width="18" height="24" fill="#25002c"/>
<rect x="737" y="698" width="18" height="8" fill="#24002c"/>
<rect x="737" y="706" width="18" height="8" fill="#1f0025"/>
<rect x="737" y="714" width="18" height="8" fill="#1e0025"/>
<rect x="737" y="722" width="18" height="32" fill="#1e0024"/>
<rect x="737" y="754" width="18" height="16" fill="#1d0023"/>
<rect x="737" y="770" width="18" height="48" fill="#000000"/>
<rect x="755" y="170" width="18" height="24" fill="#030004"/>
<rect x="755" y="194" width="18" height="8" fill="#0b000d"/>
<rect x="755" y="202" width="18" height="8" fill="#0c000e"/>
<rect x="755" y="210" width="18" height="8" fill="#0d0010"/>
<rect x="755" y="218" width="18" height="8" fill="#0e0011"/>
<rect x="755" y="226" width="18" height="8" fill="#0f0012"/>
<rect x="755" y="234" width="18" height="8" fill="#100013"/>
<rect x="755" y="242" width="18" height="8" fill="#140018"/>
<rect x="755" y="250" width="18" height="8" fill="#18001d"/>
<rect x="755" y="258" width="18" height="8" fill="#1c0021"/>
<rect x="755" y="266" width="18" height="8" fill="#210027"/>
<rect x="755" y="274" width="18" height="8" fill="#25002d"/>
<rect x="755" y="282" width="18" height="8" fill="#2a0033"/>
<rect x="755" y="290" width="18" height="8" fill="#30003a"/>
<rect x="755" y="298" width="18" height="8" fill="#370042"/>
<rect x="755" y="306" width="18" height="8" fill="#3a0046"/>
<rect x="755" y="314" width="18" height="8" fill="#3e004a"/>
<rect x="755" y="322" width="18" height="8" fill="#440051"/>
<rect x="755" y="330" width="18" height="8" fill="#38005f"/>
<rect x="755" y="338" width="18" height="8" fill="#300066"/>
<rect x="755" y="346" width="18" height="8" fill="#29006d"/>
<rect x="755" y="354" width="18" height="8" fill="#28006e"/>
<rect x="755" y="362" width="18" height="8" fill="#260070"/>
<rect x="755" y="370" width="18" height="8" fill="#27006f"/>
<rect x="755" y="378" width="18" height="16" fill="#28006e"/>
<rect x="755" y="394" width="18" height="8" fill="#29006d"/>
<rect x="755" y="402" width="18" height="16" fill="#2a006c"/>
<rect x="755" y="418" width="18" height="8" fill="#330063"/>
<rect x="755" y="426" width="18" height="8" fill="#340062"/>
<rect x="755" y="434" width="18" height="8" fill="#360061"/>
<rect x="755" y="442" width="18" height="8" fill="#3c0048"/>
<rect x="755" y="450" width="18" height="8" fill="#3c0047"/>
<rect x="755" y="458" width="18" height="24" fill="#3b0047"/>
<rect x="755" y="482" width="18" height="8" fill="#3b0046"/>
<rect x="755" y="490" width="18" height="8" fill="#3a0046"/>
<rect x="755" y="498" width="18" height="8" fill="#2c0034"/>
<rect x="755" y="506" width="18" height="16" fill="#2b0034"/>
<rect x="755" y="522" width="18" height="16" fill="#2b0033"/>
<rect x="755" y="538" width="18" height="8" fill="#2a0033"/>
<rect x="755" y="546" width="18" height="16" fill="#210027"/>
<rect x="755" y="562" width="18" height="8" fill="#200027"/>
<rect x="755" y="570" width="18" height="24" fill="#200026"/>
<rect x="755" y="594" width="18" height="8" fill="#1f0026"/>
<rect x="755" y="602" width="18" height="8" fill="#1a001f"/>
<rect x="755" y="610" width="18" height="24" fill="#19001e"/>
<rect x="755" y="634" width="18" height="8" fill="#19001d"/>
<rect x="755" y="642" width="18" height="16" fill="#18001d"/>
<rect x="755" y="658" width="18" height="8" fill="#0f0012"/>
<rect x="755" y="666" width="18" height="40" fill="#0e0011"/>
<rect x="755" y="706" width="18" height="8" fill="#0e0010"/>
<rect x="755" y="714" width="18" height="24" fill="#0d0010"/>
<rect x="755" y="738" width="18" height="80" fill="#000000"/>
<rect x="773" y="170" width="18" height="8" fill="#030004"/>
<rect x="773" y="178" width="18" height="8" fill="#060007"/>
<rect x="773" y="186" width="18" height="8" fill="#070008"/>
<rect x="773" y="194" width="18" height="8" fill="#070009"/>
<rect x="773" y="202" width="18" height="8" fill="#08000a"/>
<rect x="773" y="210" width="18" height="8" fill="#09000a"/>
<rect x="773" y="218" width="18" height="8" fill="#09000b"/>
<rect x="773" y="226" width="18" height="8" fill="#0a000c"/>
<rect x="773" y="234" width="18" height="8" fill="#0b000d"/>
<rect x="773" y="242" width="18" height="8" fill="#100013"/>
<rect x="773" y="250" width="18" height="8" fill="#150019"/>
<rect x="773" y="258" width="18" height="8" fill="#1a001f"/>
<rect x="773" y="266" width="18" height="8" fill="#1e0024"/>
<rect x="773" y="274" width="18" height="8" fill="#220029"/>
<rect x="773" y="282" width="18" height="8" fill="#27002e"/>
<rect x="773" y="290" width="18" height="8" fill="#2d0036"/>
<rect x="773" y="298" width="18" height="8" fill="#33003d"/>
<rect x="773" y="306" width="18" height="8" fill="#390044"/>
<rect x="773" y="314" width="18" height="8" fill="#3c0048"/>
<rect x="773" y="322" width="18" height="8" fill="#3f004b"/>
<rect x="773" y="330" width="18" height="8" fill="#430050"/>
<rect x="773" y="338" width="18" height="8" fill="#440055"/>
<rect x="773" y="346" width="18" height="8" fill="#410058"/>
<rect x="773" y="354" width="18" height="8" fill="#3d005b"/>
<rect x="773" y="362" width="18" height="8" fill="#3e005b"/>
<rect x="773" y="370" width="18" height="8" fill="#3e005a"/>
<rect x="773" y="378" width="18" height="8" fill="#3f005a"/>
<rect x="773" y="386" width="18" height="8" fill="#3e004a"/>
<rect x="773" y="394" width="18" height="8" fill="#3d004a"/>
<rect x="773" y="402" width="18" height="8" fill="#3d0049"/>
<rect x="773" y="410" width="18" height="8" fill="#32003c"/>
<rect x="773" y="418" width="18" height="8" fill="#31003b"/>
<rect x="773" y="426" width="18" height="8" fill="#31003a"/>
<rect x="773" y="434" width="18" height="8" fill="#30003a"/>
<rect x="773" y="442" width="18" height="8" fill="#26002e"/>
<rect x="773" y="450" width="18" height="8" fill="#26002d"/>
<rect x="773" y="458" width="18" height="16" fill="#25002d"/>
<rect x="773" y="474" width="18" height="16" fill="#25002c"/>
<rect x="773" y="490" width="18" height="8" fill="#24002c"/>
<rect x="773" y="498" width="18" height="8" fill="#1a001f"/>
<rect x="773" y="506" width="18" height="24" fill="#19001e"/>
<rect x="773" y="530" width="18" height="16" fill="#18001d"/>
<rect x="773" y="546" width="18" height="8" fill="#0f0012"/>
<rect x="773" y="554" width="18" height="24" fill="#0e0011"/>
<rect x="773" y="578" width="18" height="8" fill="#0e0010"/>
<rect x="773" y="586" width="18" height="16" fill="#0d0010"/>
<rect x="773" y="602" width="18" height="8" fill="#09000a"/>
<rect x="773" y="610" width="18" height="24" fill="#08000a"/>
<rect x="773" y="634" width="18" height="8" fill="#080009"/>
<rect x="773" y="642" width="18" height="16" fill="#070009"/>
<rect x="773" y="658" width="18" height="16" fill="#070008"/>
<rect x="773" y="674" width="18" height="8" fill="#060008"/>
<rect x="773" y="682" width="18" height="16" fill="#060007"/>
<rect x="773" y="698" width="18" height="8" fill="#050007"/>
<rect x="773" y="706" width="18" height="16" fill="#050006"/>
<rect x="773" y="722" width="18" height="16" fill="#040005"/>
<rect x="773" y="738" width="18" height="8" fill="#040004"/>
<rect x="773" y="746" width="18" height="8" fill="#030004"/>
<rect x="773" y="754" width="18" height="8" fill="#030003"/>
<rect x="773" y="762" width="18" height="8" fill="#020003"/>
<rect x="773" y="770" width="18" height="16" fill="#020002"/>
<rect x="773" y="786" width="18" height="16" fill="#010001"/>
<rect x="773" y="802" width="18" height="16" fill="#000000"/>
</g>
<rect x="538" y="33" width="326" height="15" fill="url(#cb)"/>
<g stroke="#000" stroke-width="1" fill="none" shape-rendering="crispEdges">
<rect x="142.5" y="169.5" width="649" height="649"/>
<rect x="538.5" y="33.5" width="325" height="14"/>
<line x1="143.5" y1="169.0" x2="143.5" y2="182.0"/>
<line x1="143.5" y1="818.5" x2="143.5" y2="805.5"/>
<line x1="161.5" y1="169.0" x2="161.5" y2="175.5"/>
<line x1="161.5" y1="818.5" x2="161.5" y2="812.0"/>
<line x1="179.5" y1="169.0" x2="179.5" y2="175.5"/>
<line x1="179.5" y1="818.5" x2="179.5" y2="812.0"/>
<line x1="197.5" y1="169.0" x2="197.5" y2="175.5"/>
<line x1="197.5" y1="818.5" x2="197.5" y2="812.0"/>
<line x1="215.5" y1="169.0" x2="215.5" y2="175.5"/>
<line x1="215.5" y1="818.5" x2="215.5" y2="812.0"/>
<line x1="233.5" y1="169.0" x2="233.5" y2="182.0"/>
<line x1="233.5" y1="818.5" x2="233.5" y2="805.5"/>
<line x1="251.5" y1="169.0" x2="251.5" y2="175.5"/>
<line x1="251.5" y1="818.5" x2="251.5" y2="812.0"/>
<line x1="269.5" y1="169.0" x2="269.5" y2="175.5"/>
<line x1="269.5" y1="818.5" x2="269.5" y2="812.0"/>
<line x1="287.5" y1="169.0" x2="287.5" y2="175.5"/>
<line x1="287.5" y1="818.5" x2="287.5" y2="812.0"/>
<line x1="305.5" y1="169.0" x2="305.5" y2="175.5"/>
<line x1="305.5" y1="818.5" x2="305.5" y2="812.0"/>
<line x1="323.5" y1="169.0" x2="323.5" y2="182.0"/>
<line x1="323.5" y1="818.5" x2="323.5" y2="805.5"/>
<line x1="341.5" y1="169.0" x2="341.5" y2="175.5"/>
<line x1="341.5" y1="818.5" x2="341.5" y2="812.0"/>
<line x1="359.5" y1="169.0" x2="359.5" y2="175.5"/>
<line x1="359.5" y1="818.5" x2="359.5" y2="812.0"/>
<line x1="377.5" y1="169.0" x2="377.5" y2="175.5"/>
<line x1="377.5" y1="818.5" x2="377.5" y2="812.0"/>
<line x1="395.5" y1="169.0" x2="395.5" y2="175.5"/>
<line x1="395.5" y1="818.5" x2="395.5" y2="812.0"/>
<line x1="413.5" y1="169.0" x2="413.5" y2="182.0"/>
<line x1="413.5" y1="818.5" x2="413.5" y2="805.5"/>
<line x1="431.5" y1="169.0" x2="431.5" y2="175.5"/>
<line x1="431.5" y1="818.5" x2="431.5" y2="812.0"/>
<line x1="449.5" y1="169.0" x2="449.5" y2="175.5"/>
<line x1="449.5" y1="818.5" x2="449.5" y2="812.0"/>
<line x1="467.5" y1="169.0" x2="467.5" y2="175.5"/>
<line x1="467.5" y1="818.5" x2="467.5" y2="812.0"/>
<line x1="485.5" y1="169.0" x2="485.5" y2="175.5"/>
<line x1="485.5" y1="818.5" x2="485.5" y2="812.0"/>
<line x1="503.5" y1="169.0" x2="503.5" y2="182.0"/>
<line x1="503.5" y1="818.5" x2="503.5" y2="805.5"/>
<line x1="521.5" y1="169.0" x2="521.5" y2="175.5"/>
<line x1="521.5" y1="818.5" x2="521.5" y2="812.0"/>
<line x1="539.5" y1="169.0" x2="539.5" y2="175.5"/>
<line x1="539.5" y1="818.5" x2="539.5" y2="812.0"/>
<line x1="557.5" y1="169.0" x2="557.5" y2="175.5"/>
<line x1="557.5" y1="818.5" x2="557.5" y2="812.0"/>
<line x1="575.5" y1="169.0" x2="575.5" y2="175.5"/>
<line x1="575.5" y1="818.5" x2="575.5" y2="812.0"/>
<line x1="593.5" y1="169.0" x2="593.5" y2="182.0"/>
<line x1="593.5" y1="818.5" x2="593.5" y2="805.5"/>
<line x1="611.5" y1="169.0" x2="611.5" y2="175.5"/>
<line x1="611.5" y1="818.5" x2="611.5" y2="812.0"/>
<line x1="629.5" y1="169.0" x2="629.5" y2="175.5"/>
<line x1="629.5" y1="818.5" x2="629.5" y2="812.0"/>
<line x1="647.5" y1="169.0" x2="647.5" y2="175.5"/>
<line x1="647.5" y1="818.5" x2="647.5" y2="812.0"/>
<line x1="665.5" y1="169.0" x2="665.5" y2="175.5"/>
<line x1="665.5" y1="818.5" x2="665.5" y2="812.0"/>
<line x1="683.5" y1="169.0" x2="683.5" y2="182.0"/>
<line x1="683.5" y1="818.5" x2="683.5" y2="805.5"/>
<line x1="701.5" y1="169.0" x2="701.5" y2="175.5"/>
<line x1="701.5" y1="818.5" x2="701.5" y2="812.0"/>
<line x1="719.5" y1="169.0" x2="719.5" y2="175.5"/>
<line x1="719.5" y1="818.5" x2="719.5" y2="812.0"/>
<line x1="737.5" y1="169.0" x2="737.5" y2="175.5"/>
<line x1="737.5" y1="818.5" x2="737.5" y2="812.0"/>
<line x1="755.5" y1="169.0" x2="755.5" y2="175.5"/>
<line x1="755.5" y1="818.5" x2="755.5" y2="812.0"/>
<line x1="773.5" y1="169.0" x2="773.5" y2="182.0"/>
<line x1="773.5" y1="818.5" x2="773.5" y2="805.5"/>
<line x1="791.5" y1="169.0" x2="791.5" y2="175.5"/>
<line x1="791.5" y1="818.5" x2="791.5" y2="812.0"/>
<line x1="142.0" y1="817.5" x2="155.0" y2="817.5"/>
<line x1="792.0" y1="817.5" x2="779.0" y2="817.5"/>
<line x1="142.0" y1="737.5" x2="148.5" y2="737.5"/>
<line x1="792.0" y1="737.5" x2="785.5" y2="737.5"/>
<line x1="142.0" y1="657.5" x2="155.0" y2="657.5"/>
<line x1="792.0" y1="657.5" x2="779.0" y2="657.5"/>
<line x1="142.0" y1="577.5" x2="148.5" y2="577.5"/>
<line x1="792.0" y1="577.5" x2="785.5" y2="577.5"/>
<line x1="142.0" y1="497.5" x2="155.0" y2="497.5"/>
<line x1="792.0" y1="497.5" x2="779.0" y2="497.5"/>
<line x1="142.0" y1="417.5" x2="148.5" y2="417.5"/>
<line x1="792.0" y1="417.5" x2="785.5" y2="417.5"/>
<line x1="142.0" y1="337.5" x2="155.0" y2="337.5"/>
<line x1="792.0" y1="337.5" x2="779.0" y2="337.5"/>
<line x1="142.0" y1="257.5" x2="148.5" y2="257.5"/>
<line x1="792.0" y1="257.5" x2="785.5" y2="257.5"/>
<line x1="142.0" y1="177.5" x2="155.0" y2="177.5"/>
<line x1="792.0" y1="177.5" x2="779.0" y2="177.5"/>
<line x1="592.5" y1="33.0" x2="592.5" y2="36.0"/>
<line x1="592.5" y1="48.0" x2="592.5" y2="45.0"/>
<line x1="646.5" y1="33.0" x2="646.5" y2="36.0"/>
<line x1="646.5" y1="48.0" x2="646.5" y2="45.0"/>
<line x1="701.5" y1="33.0" x2="701.5" y2="36.0"/>
<line x1="701.5" y1="48.0" x2="701.5" y2="45.0"/>
<line x1="755.5" y1="33.0" x2="755.5" y2="36.0"/>
<line x1="755.5" y1="48.0" x2="755.5" y2="45.0"/>
<line x1="809.5" y1="33.0" x2="809.5" y2="36.0"/>
<line x1="809.5" y1="48.0" x2="809.5" y2="45.0"/>
</g>
<g style="will-change:transform;opacity:0.999">
<text x="472.5" y="155" text-anchor="middle">PBf20190129&#160;&#160;UT: 1.5&#160;&#160;mjd: 58512</text>
<text x="701" y="20" text-anchor="middle">TEC</text>
<text x="539.0" y="82" text-anchor="middle">0</text>
<text x="593.3333333333334" y="82" text-anchor="middle">10</text>
<text x="647.6666666666666" y="82" text-anchor="middle">20</text>
<text x="702.0" y="82" text-anchor="middle">30</text>
<text x="756.3333333333334" y="82" text-anchor="middle">40</text>
<text x="810.6666666666667" y="82" text-anchor="middle">50</text>
<text x="865.0" y="82" text-anchor="middle">60</text>
<text x="143.0" y="851.5" text-anchor="middle">0</text>
<text x="233.0" y="851.5" text-anchor="middle">50</text>
<text x="323.0" y="851.5" text-anchor="middle">100</text>
<text x="413.0" y="851.5" text-anchor="middle">150</text>
<text x="503.0" y="851.5" text-anchor="middle">200</text>
<text x="593.0" y="851.5" text-anchor="middle">250</text>
<text x="683.0" y="851.5" text-anchor="middle">300</text>
<text x="773.0" y="851.5" text-anchor="middle">350</text>
<text x="129" y="185.0" text-anchor="end">40</text>
<text x="129" y="345.0" text-anchor="end">20</text>
<text x="129" y="505.0" text-anchor="end">0</text>
<text x="129" y="665.0" text-anchor="end">-20</text>
<text x="129" y="825.0" text-anchor="end">-40</text>
<text x="467.5" y="893" text-anchor="middle">Longitude</text>
<text x="-1" y="417.5" text-anchor="start">Latitude</text>
</g>
</svg>
</body></html>
